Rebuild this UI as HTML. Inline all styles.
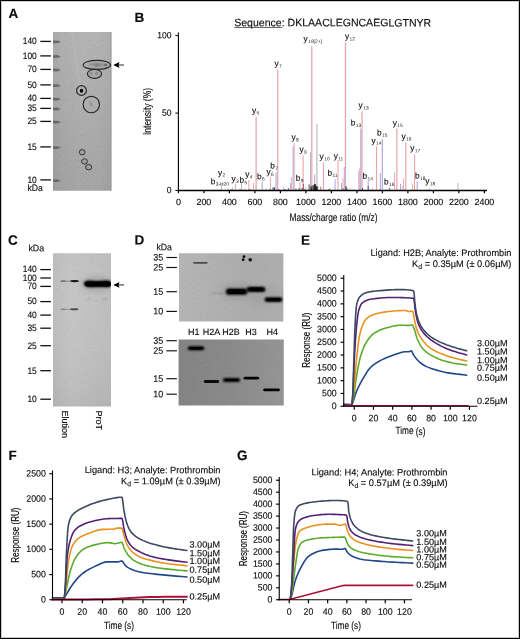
<!DOCTYPE html>
<html lang="en"><head><meta charset="utf-8"><title>Figure</title>
<style>
html,body{margin:0;padding:0;background:#fff;}
body{width:520px;height:639px;overflow:hidden;}
svg{display:block;font-family:"Liberation Sans", sans-serif;}
svg text{fill:#0a0a0a;stroke:#0a0a0a;stroke-width:0.12px;}
</style></head><body>
<svg width="520" height="639" viewBox="0 0 520 639">
<defs>
<filter id="b1" x="-20%" y="-50%" width="140%" height="200%"><feGaussianBlur stdDeviation="0.8"/></filter>
<filter id="b2" x="-20%" y="-50%" width="140%" height="200%"><feGaussianBlur stdDeviation="1.4"/></filter>
<filter id="b05" x="-20%" y="-50%" width="140%" height="200%"><feGaussianBlur stdDeviation="0.5"/></filter>
<filter id="b3" x="-30%" y="-30%" width="160%" height="160%"><feGaussianBlur stdDeviation="3"/></filter>
<filter id="nz" x="0" y="0" width="100%" height="100%" color-interpolation-filters="sRGB"><feTurbulence type="fractalNoise" baseFrequency="0.7" numOctaves="2" seed="7" result="t"/><feColorMatrix in="t" type="matrix" values="0 0 0 0 0  0 0 0 0 0  0 0 0 0 0  1.6 0 0 0 -0.55"/></filter>
<filter id="nzw" x="0" y="0" width="100%" height="100%" color-interpolation-filters="sRGB"><feTurbulence type="fractalNoise" baseFrequency="0.6" numOctaves="2" seed="21" result="t"/><feColorMatrix in="t" type="matrix" values="0 0 0 0 1  0 0 0 0 1  0 0 0 0 1  1.6 0 0 0 -0.55"/></filter>
<linearGradient id="gA" x1="0" y1="0" x2="1" y2="0">
<stop offset="0" stop-color="#a2a2a2"/><stop offset="0.15" stop-color="#a8a8a8"/><stop offset="0.5" stop-color="#adadad"/><stop offset="0.8" stop-color="#ababab"/><stop offset="1" stop-color="#a6a6a6"/>
</linearGradient>
<linearGradient id="gAv" x1="0" y1="0" x2="0" y2="1">
<stop offset="0" stop-color="#fff" stop-opacity="0.12"/><stop offset="0.5" stop-color="#fff" stop-opacity="0.04"/><stop offset="1" stop-color="#000" stop-opacity="0.03"/>
</linearGradient>
<linearGradient id="gB1" x1="0" y1="0" x2="1" y2="0"><stop offset="0" stop-color="#8c8c8c"/><stop offset="0.3" stop-color="#7a7a7a"/><stop offset="0.55" stop-color="#4a4a4a"/><stop offset="0.8" stop-color="#111"/><stop offset="1" stop-color="#3a3a3a"/></linearGradient>
<linearGradient id="gB2" x1="0" y1="0" x2="1" y2="0"><stop offset="0" stop-color="#999"/><stop offset="0.3" stop-color="#8c8c8c"/><stop offset="0.55" stop-color="#6a6a6a"/><stop offset="0.8" stop-color="#3c3c3c"/><stop offset="1" stop-color="#666"/></linearGradient>
<linearGradient id="gC" x1="0" y1="0" x2="0" y2="1">
<stop offset="0" stop-color="#c4c4c4"/><stop offset="0.2" stop-color="#c6c6c6"/><stop offset="0.6" stop-color="#c4c4c4"/><stop offset="0.85" stop-color="#bfbfbf"/><stop offset="1" stop-color="#bababa"/>
</linearGradient>
<linearGradient id="gCh" x1="0" y1="0" x2="1" y2="0">
<stop offset="0" stop-color="#000" stop-opacity="0.04"/><stop offset="0.3" stop-color="#fff" stop-opacity="0.03"/><stop offset="1" stop-color="#000" stop-opacity="0.03"/>
</linearGradient>
<linearGradient id="gD1" x1="0" y1="0" x2="1" y2="0">
<stop offset="0" stop-color="#b6b6b6"/><stop offset="0.35" stop-color="#b2b2b2"/><stop offset="0.7" stop-color="#adadad"/><stop offset="1" stop-color="#b0b0b0"/>
</linearGradient>
<linearGradient id="gD2" x1="0" y1="0" x2="1" y2="0">
<stop offset="0" stop-color="#848484"/><stop offset="0.5" stop-color="#8b8b8b"/><stop offset="1" stop-color="#969696"/>
</linearGradient>
<clipPath id="cA"><rect x="53" y="32" width="58.6" height="158.8"/></clipPath>
<clipPath id="cC"><rect x="53" y="253.2" width="58" height="153.2"/></clipPath>
<clipPath id="cD1"><rect x="179" y="253.3" width="104.4" height="68.2"/></clipPath>
<clipPath id="cD2"><rect x="178.6" y="339.5" width="105.2" height="66"/></clipPath>
</defs>
<rect x="0" y="0" width="520" height="639" fill="#fff"/>
<text x="8.50" y="17.95" font-size="13.5" font-weight="bold" transform="rotate(0.03 8.50 17.95)" fill="#000">A</text>
<g clip-path="url(#cA)">
<rect x="53" y="32" width="58.5" height="159" fill="url(#gA)"/>
<rect x="53" y="32" width="58.5" height="159" fill="url(#gAv)"/>
<rect x="53" y="32" width="59" height="159" filter="url(#nz)" opacity="0.08"/><rect x="53" y="32" width="59" height="159" filter="url(#nzw)" opacity="0.07"/>
<path d="M72.6 32 L75.5 58 L79.5 88 L82 108" stroke="#c2c2c2" stroke-width="1.4" fill="none" opacity="0.55" filter="url(#b1)"/>
<path d="M84 32 L82.5 50 L81 75" stroke="#bababa" stroke-width="1.4" fill="none" opacity="0.4" filter="url(#b1)"/>
<rect x="110.3" y="32" width="1.4" height="159" fill="#9a9a9a"/>
<path d="M53 40.6 L57 40.5 L60.5 41.6 L60.5 42.2 L57 43.3 L53 43.2 Z" fill="#6a6a6a" filter="url(#b05)"/>
<path d="M53 55.2 L57 55.1 L60.5 56.2 L60.5 56.8 L57 57.9 L53 57.8 Z" fill="#6a6a6a" filter="url(#b05)"/>
<path d="M53 68.7 L57 68.6 L60.5 69.7 L60.5 70.3 L57 71.4 L53 71.3 Z" fill="#6a6a6a" filter="url(#b05)"/>
<path d="M53 84.3 L57 84.2 L60.5 85.3 L60.5 85.9 L57 87.0 L53 86.9 Z" fill="#6a6a6a" filter="url(#b05)"/>
<path d="M53 97.8 L57 97.7 L60.5 98.8 L60.5 99.4 L57 100.5 L53 100.4 Z" fill="#6a6a6a" filter="url(#b05)"/>
<path d="M53 107.7 L57 107.6 L60.5 108.7 L60.5 109.3 L57 110.4 L53 110.3 Z" fill="#6a6a6a" filter="url(#b05)"/>
<path d="M53 120.8 L57 120.7 L60.5 121.8 L60.5 122.4 L57 123.5 L53 123.4 Z" fill="#6a6a6a" filter="url(#b05)"/>
<path d="M53 146.3 L57 146.2 L60.5 147.3 L60.5 147.9 L57 149.0 L53 148.9 Z" fill="#6a6a6a" filter="url(#b05)"/>
<path d="M53 179.4 L57 179.3 L60.5 180.4 L60.5 181.0 L57 182.1 L53 182.0 Z" fill="#6a6a6a" filter="url(#b05)"/>
<ellipse cx="97.5" cy="64.8" rx="10" ry="1.7" fill="#8a8a8a" filter="url(#b1)"/>
<ellipse cx="105.7" cy="64.9" rx="1.6" ry="1.2" fill="#6c6c6c" filter="url(#b05)"/>
<ellipse cx="97" cy="65.2" rx="2.5" ry="1.2" fill="#7c7c7c" filter="url(#b1)"/>
<ellipse cx="91.1" cy="73.2" rx="1.8" ry="1.5" fill="#7a7a7a" filter="url(#b1)"/>
<ellipse cx="96.8" cy="73.2" rx="2" ry="1.5" fill="#787878" filter="url(#b1)"/>
<path d="M89.6 102.4 L92.4 105.6" stroke="#7e7e7e" stroke-width="1.5" stroke-linecap="round" fill="none" filter="url(#b1)"/>
</g>
<ellipse cx="96.85" cy="64.9" rx="13.7" ry="4.5" fill="none" stroke="#262626" stroke-width="1.15"/>
<ellipse cx="94.5" cy="73.8" rx="7.1" ry="4.5" fill="none" stroke="#262626" stroke-width="1.15"/>
<ellipse cx="81.5" cy="90.5" rx="4.9" ry="4.9" fill="none" stroke="#262626" stroke-width="1.15"/>
<ellipse cx="81.5" cy="90.8" rx="1.7" ry="2.0" fill="#000" filter="url(#b05)"/><circle cx="81.5" cy="90.8" r="0.9" fill="#000"/>
<ellipse cx="91.3" cy="104.5" rx="8.2" ry="8.2" fill="none" stroke="#262626" stroke-width="1.15"/>
<ellipse cx="82.2" cy="152.2" rx="2.9" ry="2.7" fill="#a0a0a0" stroke="#262626" stroke-width="0.9"/>
<ellipse cx="84.5" cy="161.4" rx="2.9" ry="2.7" fill="#a0a0a0" stroke="#262626" stroke-width="0.9"/>
<ellipse cx="88.7" cy="167.2" rx="3.1" ry="2.7" fill="#a0a0a0" stroke="#262626" stroke-width="0.9"/>
<line x1="118.20" y1="65.00" x2="124.00" y2="65.00" stroke="#666" stroke-width="1.4"/>
<path d="M113.20 65.00 L119.50 62.10 L118.50 65.00 L119.50 67.90 Z" fill="#000"/>
<text x="36.80" y="44.27" font-size="9.4" text-anchor="end" textLength="14.00" lengthAdjust="spacingAndGlyphs" transform="rotate(0.03 36.80 44.27)">140</text>
<line x1="40.30" y1="41.40" x2="50.90" y2="41.40" stroke="#111" stroke-width="1.3"/>
<text x="36.80" y="58.77" font-size="9.4" text-anchor="end" textLength="14.00" lengthAdjust="spacingAndGlyphs" transform="rotate(0.03 36.80 58.77)">100</text>
<line x1="40.30" y1="55.90" x2="50.90" y2="55.90" stroke="#111" stroke-width="1.3"/>
<text x="36.80" y="72.27" font-size="9.4" text-anchor="end" textLength="9.40" lengthAdjust="spacingAndGlyphs" transform="rotate(0.03 36.80 72.27)">70</text>
<line x1="40.30" y1="69.40" x2="50.90" y2="69.40" stroke="#111" stroke-width="1.3"/>
<text x="36.80" y="87.77" font-size="9.4" text-anchor="end" textLength="9.40" lengthAdjust="spacingAndGlyphs" transform="rotate(0.03 36.80 87.77)">50</text>
<line x1="40.30" y1="84.90" x2="50.90" y2="84.90" stroke="#111" stroke-width="1.3"/>
<text x="36.80" y="101.27" font-size="9.4" text-anchor="end" textLength="9.40" lengthAdjust="spacingAndGlyphs" transform="rotate(0.03 36.80 101.27)">40</text>
<line x1="40.30" y1="98.40" x2="50.90" y2="98.40" stroke="#111" stroke-width="1.3"/>
<text x="36.80" y="111.27" font-size="9.4" text-anchor="end" textLength="9.40" lengthAdjust="spacingAndGlyphs" transform="rotate(0.03 36.80 111.27)">35</text>
<line x1="40.30" y1="108.40" x2="50.90" y2="108.40" stroke="#111" stroke-width="1.3"/>
<text x="36.80" y="124.27" font-size="9.4" text-anchor="end" textLength="9.40" lengthAdjust="spacingAndGlyphs" transform="rotate(0.03 36.80 124.27)">25</text>
<line x1="40.30" y1="121.40" x2="50.90" y2="121.40" stroke="#111" stroke-width="1.3"/>
<text x="36.80" y="149.77" font-size="9.4" text-anchor="end" textLength="9.40" lengthAdjust="spacingAndGlyphs" transform="rotate(0.03 36.80 149.77)">15</text>
<line x1="40.30" y1="146.90" x2="50.90" y2="146.90" stroke="#111" stroke-width="1.3"/>
<text x="36.80" y="182.77" font-size="9.4" text-anchor="end" textLength="9.40" lengthAdjust="spacingAndGlyphs" transform="rotate(0.03 36.80 182.77)">10</text>
<line x1="40.30" y1="179.90" x2="50.90" y2="179.90" stroke="#111" stroke-width="1.3"/>
<text x="27.40" y="191.30" font-size="9.3" textLength="15.30" lengthAdjust="spacingAndGlyphs" transform="rotate(0.03 27.40 191.30)">kDa</text>
<text x="134.50" y="22.10" font-size="13.5" font-weight="bold" transform="rotate(0.03 134.50 22.10)" fill="#000">B</text>
<text x="234.2" y="26.3" transform="rotate(0.03 234 26)" font-size="10.8" textLength="197" lengthAdjust="spacingAndGlyphs">Sequence: DKLAACLEGNCAEGLGTNYR</text>
<line x1="234.20" y1="27.45" x2="282.20" y2="27.45" stroke="#1a1a1a" stroke-width="0.7"/>
<line x1="221.60" y1="190.50" x2="221.60" y2="185.40" stroke="#a8a2dc" stroke-width="0.85"/>
<line x1="228.00" y1="190.50" x2="228.00" y2="188.00" stroke="#a8a2dc" stroke-width="0.68"/>
<line x1="232.70" y1="190.50" x2="232.70" y2="187.40" stroke="#a8a2dc" stroke-width="0.85"/>
<line x1="235.50" y1="190.50" x2="235.50" y2="183.80" stroke="#eaa3ad" stroke-width="0.94"/>
<line x1="241.60" y1="190.50" x2="241.60" y2="183.40" stroke="#a8a2dc" stroke-width="0.94"/>
<line x1="245.00" y1="190.50" x2="245.00" y2="187.80" stroke="#eaa3ad" stroke-width="0.68"/>
<line x1="248.80" y1="190.50" x2="248.80" y2="180.00" stroke="#eaa3ad" stroke-width="0.94"/>
<line x1="253.50" y1="190.50" x2="253.50" y2="183.00" stroke="#eaa3ad" stroke-width="0.94"/>
<line x1="256.10" y1="190.50" x2="256.10" y2="116.80" stroke="#eaa3ad" stroke-width="1.27"/>
<line x1="262.20" y1="190.50" x2="262.20" y2="181.50" stroke="#a8a2dc" stroke-width="1.02"/>
<line x1="266.00" y1="190.50" x2="266.00" y2="187.80" stroke="#a8a2dc" stroke-width="0.68"/>
<line x1="270.40" y1="190.50" x2="270.40" y2="177.00" stroke="#eaa3ad" stroke-width="0.94"/>
<line x1="274.00" y1="190.50" x2="274.00" y2="187.00" stroke="#5a55b0" stroke-width="0.77"/>
<line x1="276.10" y1="190.50" x2="276.10" y2="172.60" stroke="#a8a2dc" stroke-width="1.02"/>
<line x1="277.70" y1="190.50" x2="277.70" y2="70.00" stroke="#eaa3ad" stroke-width="1.19"/>
<line x1="283.80" y1="190.50" x2="283.80" y2="187.00" stroke="#a8a2dc" stroke-width="0.85"/>
<line x1="288.00" y1="190.50" x2="288.00" y2="188.00" stroke="#eaa3ad" stroke-width="0.68"/>
<line x1="290.50" y1="190.50" x2="290.50" y2="183.00" stroke="#a8a2dc" stroke-width="0.85"/>
<line x1="291.50" y1="190.50" x2="291.50" y2="177.20" stroke="#eaa3ad" stroke-width="0.85"/>
<line x1="293.10" y1="190.50" x2="293.10" y2="146.20" stroke="#a8a2dc" stroke-width="1.02"/>
<line x1="294.20" y1="190.50" x2="294.20" y2="143.00" stroke="#eaa3ad" stroke-width="1.02"/>
<line x1="300.00" y1="190.50" x2="300.00" y2="182.30" stroke="#a8a2dc" stroke-width="0.94"/>
<line x1="303.10" y1="190.50" x2="303.10" y2="155.40" stroke="#eaa3ad" stroke-width="1.1"/>
<line x1="303.40" y1="190.50" x2="303.40" y2="183.80" stroke="#b23a3a" stroke-width="0.85"/>
<line x1="306.00" y1="190.50" x2="306.00" y2="187.50" stroke="#eaa3ad" stroke-width="0.68"/>
<line x1="310.50" y1="190.50" x2="310.50" y2="152.30" stroke="#b9b9b9" stroke-width="1.02"/>
<line x1="311.80" y1="190.50" x2="311.80" y2="46.20" stroke="#eaa3ad" stroke-width="1.27"/>
<line x1="314.60" y1="190.50" x2="314.60" y2="174.60" stroke="#a8a2dc" stroke-width="0.94"/>
<line x1="316.90" y1="190.50" x2="316.90" y2="124.00" stroke="#b9b9b9" stroke-width="1.19"/>
<line x1="320.80" y1="190.50" x2="320.80" y2="186.50" stroke="#b23a3a" stroke-width="0.77"/>
<line x1="323.50" y1="190.50" x2="323.50" y2="162.30" stroke="#eaa3ad" stroke-width="1.1"/>
<line x1="330.00" y1="190.50" x2="330.00" y2="188.00" stroke="#a8a2dc" stroke-width="0.68"/>
<line x1="335.10" y1="190.50" x2="335.10" y2="179.20" stroke="#a8a2dc" stroke-width="0.94"/>
<line x1="338.00" y1="190.50" x2="338.00" y2="160.30" stroke="#eaa3ad" stroke-width="1.1"/>
<line x1="341.50" y1="190.50" x2="341.50" y2="183.00" stroke="#a8a2dc" stroke-width="0.85"/>
<line x1="342.80" y1="190.50" x2="342.80" y2="178.20" stroke="#eaa3ad" stroke-width="0.85"/>
<line x1="344.30" y1="190.50" x2="344.30" y2="167.00" stroke="#a8a2dc" stroke-width="0.94"/>
<line x1="345.50" y1="190.50" x2="345.50" y2="42.40" stroke="#eaa3ad" stroke-width="1.27"/>
<line x1="350.00" y1="190.50" x2="350.00" y2="187.80" stroke="#eaa3ad" stroke-width="0.68"/>
<line x1="358.80" y1="190.50" x2="358.80" y2="171.20" stroke="#a8a2dc" stroke-width="0.85"/>
<line x1="359.60" y1="190.50" x2="359.60" y2="168.50" stroke="#eaa3ad" stroke-width="0.85"/>
<line x1="360.80" y1="190.50" x2="360.80" y2="128.50" stroke="#a8a2dc" stroke-width="1.02"/>
<line x1="362.00" y1="190.50" x2="362.00" y2="111.20" stroke="#eaa3ad" stroke-width="1.27"/>
<line x1="368.20" y1="190.50" x2="368.20" y2="180.80" stroke="#a8a2dc" stroke-width="1.02"/>
<line x1="368.20" y1="190.50" x2="368.20" y2="186.00" stroke="#5a55b0" stroke-width="1.02"/>
<line x1="372.50" y1="190.50" x2="372.50" y2="187.80" stroke="#eaa3ad" stroke-width="0.68"/>
<line x1="376.50" y1="190.50" x2="376.50" y2="146.20" stroke="#eaa3ad" stroke-width="1.1"/>
<line x1="380.30" y1="190.50" x2="380.30" y2="173.00" stroke="#a8a2dc" stroke-width="1.02"/>
<line x1="382.30" y1="190.50" x2="382.30" y2="139.20" stroke="#a8a2dc" stroke-width="1.1"/>
<line x1="387.00" y1="190.50" x2="387.00" y2="188.20" stroke="#eaa3ad" stroke-width="0.68"/>
<line x1="389.70" y1="190.50" x2="389.70" y2="187.50" stroke="#5a55b0" stroke-width="0.85"/>
<line x1="394.60" y1="190.50" x2="394.60" y2="172.30" stroke="#eaa3ad" stroke-width="0.94"/>
<line x1="396.90" y1="190.50" x2="396.90" y2="128.80" stroke="#eaa3ad" stroke-width="1.19"/>
<line x1="400.50" y1="190.50" x2="400.50" y2="183.80" stroke="#a8a2dc" stroke-width="0.94"/>
<line x1="402.80" y1="190.50" x2="402.80" y2="186.00" stroke="#a8a2dc" stroke-width="0.77"/>
<line x1="403.60" y1="190.50" x2="403.60" y2="178.50" stroke="#eaa3ad" stroke-width="0.94"/>
<line x1="405.80" y1="190.50" x2="405.80" y2="142.30" stroke="#eaa3ad" stroke-width="1.19"/>
<line x1="412.60" y1="190.50" x2="412.60" y2="183.80" stroke="#eaa3ad" stroke-width="0.94"/>
<line x1="414.60" y1="190.50" x2="414.60" y2="154.20" stroke="#eaa3ad" stroke-width="1.1"/>
<line x1="417.20" y1="190.50" x2="417.20" y2="181.50" stroke="#a8a2dc" stroke-width="1.02"/>
<line x1="429.20" y1="190.50" x2="429.20" y2="188.00" stroke="#eaa3ad" stroke-width="0.77"/>
<line x1="458.00" y1="190.50" x2="458.00" y2="183.00" stroke="#b9b9b9" stroke-width="1.02"/>
<line x1="311.07" y1="190.50" x2="311.07" y2="186.01" stroke="#1a1a1a" stroke-width="0.8"/>
<line x1="312.22" y1="190.50" x2="312.22" y2="185.68" stroke="#1a1a1a" stroke-width="0.8"/>
<line x1="314.44" y1="190.50" x2="314.44" y2="188.64" stroke="#1a1a1a" stroke-width="0.8"/>
<line x1="309.11" y1="190.50" x2="309.11" y2="184.39" stroke="#1a1a1a" stroke-width="0.8"/>
<line x1="311.26" y1="190.50" x2="311.26" y2="187.71" stroke="#1a1a1a" stroke-width="0.8"/>
<line x1="317.66" y1="190.50" x2="317.66" y2="186.41" stroke="#1a1a1a" stroke-width="0.8"/>
<line x1="316.28" y1="190.50" x2="316.28" y2="186.38" stroke="#1a1a1a" stroke-width="0.8"/>
<line x1="314.56" y1="190.50" x2="314.56" y2="188.17" stroke="#1a1a1a" stroke-width="0.8"/>
<line x1="314.52" y1="190.50" x2="314.52" y2="184.23" stroke="#1a1a1a" stroke-width="0.8"/>
<line x1="313.55" y1="190.50" x2="313.55" y2="184.92" stroke="#1a1a1a" stroke-width="0.8"/>
<line x1="314.84" y1="190.50" x2="314.84" y2="188.65" stroke="#1a1a1a" stroke-width="0.8"/>
<line x1="315.60" y1="190.50" x2="315.60" y2="185.75" stroke="#1a1a1a" stroke-width="0.8"/>
<line x1="311.62" y1="190.50" x2="311.62" y2="188.83" stroke="#1a1a1a" stroke-width="0.8"/>
<line x1="316.53" y1="190.50" x2="316.53" y2="186.40" stroke="#1a1a1a" stroke-width="0.8"/>
<line x1="315.25" y1="190.50" x2="315.25" y2="184.17" stroke="#1a1a1a" stroke-width="0.8"/>
<line x1="315.21" y1="190.50" x2="315.21" y2="183.93" stroke="#1a1a1a" stroke-width="0.8"/>
<line x1="270.00" y1="190.50" x2="270.00" y2="189.00" stroke="#2a2a2a" stroke-width="0.8"/>
<line x1="273.00" y1="190.50" x2="273.00" y2="187.50" stroke="#2a2a2a" stroke-width="0.8"/>
<line x1="274.50" y1="190.50" x2="274.50" y2="187.50" stroke="#2a2a2a" stroke-width="0.8"/>
<line x1="279.00" y1="190.50" x2="279.00" y2="189.00" stroke="#2a2a2a" stroke-width="0.8"/>
<line x1="296.00" y1="190.50" x2="296.00" y2="188.50" stroke="#2a2a2a" stroke-width="0.8"/>
<line x1="299.00" y1="190.50" x2="299.00" y2="188.00" stroke="#2a2a2a" stroke-width="0.8"/>
<line x1="302.00" y1="190.50" x2="302.00" y2="188.00" stroke="#2a2a2a" stroke-width="0.8"/>
<line x1="305.00" y1="190.50" x2="305.00" y2="189.00" stroke="#2a2a2a" stroke-width="0.8"/>
<line x1="343.00" y1="190.50" x2="343.00" y2="188.50" stroke="#2a2a2a" stroke-width="0.8"/>
<line x1="345.90" y1="190.50" x2="345.90" y2="186.00" stroke="#2a2a2a" stroke-width="0.8"/>
<line x1="346.80" y1="190.50" x2="346.80" y2="187.50" stroke="#2a2a2a" stroke-width="0.8"/>
<line x1="240.00" y1="190.50" x2="240.00" y2="189.00" stroke="#2a2a2a" stroke-width="0.8"/>
<line x1="231.00" y1="190.50" x2="231.00" y2="189.30" stroke="#2a2a2a" stroke-width="0.8"/>
<line x1="250.00" y1="190.50" x2="250.00" y2="189.00" stroke="#2a2a2a" stroke-width="0.8"/>
<line x1="288.50" y1="190.50" x2="288.50" y2="188.50" stroke="#2a2a2a" stroke-width="0.8"/>
<line x1="285.00" y1="190.50" x2="285.00" y2="189.00" stroke="#2a2a2a" stroke-width="0.8"/>
<line x1="362.50" y1="190.50" x2="362.50" y2="188.00" stroke="#2a2a2a" stroke-width="0.8"/>
<line x1="329.00" y1="190.50" x2="329.00" y2="189.00" stroke="#2a2a2a" stroke-width="0.8"/>
<line x1="178.40" y1="32.50" x2="178.40" y2="191.00" stroke="#000" stroke-width="1.1"/>
<line x1="177.90" y1="190.50" x2="487.00" y2="190.50" stroke="#000" stroke-width="1.4"/>
<line x1="175.40" y1="35.60" x2="178.40" y2="35.60" stroke="#000" stroke-width="1"/>
<text x="171.60" y="38.22" font-size="9" text-anchor="end" textLength="14.25" lengthAdjust="spacingAndGlyphs" transform="rotate(0.03 171.60 38.22)">100</text>
<line x1="175.40" y1="113.10" x2="178.40" y2="113.10" stroke="#000" stroke-width="1"/>
<text x="171.60" y="115.72" font-size="9" text-anchor="end" textLength="9.50" lengthAdjust="spacingAndGlyphs" transform="rotate(0.03 171.60 115.72)">50</text>
<line x1="175.40" y1="190.50" x2="178.40" y2="190.50" stroke="#000" stroke-width="1"/>
<text x="171.60" y="193.12" font-size="9" text-anchor="end" textLength="4.75" lengthAdjust="spacingAndGlyphs" transform="rotate(0.03 171.60 193.12)">0</text>
<line x1="178.40" y1="190.50" x2="178.40" y2="193.30" stroke="#000" stroke-width="1.2"/>
<text x="178.40" y="205.00" font-size="9" text-anchor="middle" transform="rotate(0.03 178.40 205.00)">0</text>
<line x1="203.90" y1="190.50" x2="203.90" y2="193.30" stroke="#000" stroke-width="1.2"/>
<text x="203.90" y="205.00" font-size="9" text-anchor="middle" textLength="14.85" lengthAdjust="spacingAndGlyphs" transform="rotate(0.03 203.90 205.00)">200</text>
<line x1="229.40" y1="190.50" x2="229.40" y2="193.30" stroke="#000" stroke-width="1.2"/>
<text x="229.40" y="205.00" font-size="9" text-anchor="middle" textLength="14.85" lengthAdjust="spacingAndGlyphs" transform="rotate(0.03 229.40 205.00)">400</text>
<line x1="254.90" y1="190.50" x2="254.90" y2="193.30" stroke="#000" stroke-width="1.2"/>
<text x="254.90" y="205.00" font-size="9" text-anchor="middle" textLength="14.85" lengthAdjust="spacingAndGlyphs" transform="rotate(0.03 254.90 205.00)">600</text>
<line x1="280.40" y1="190.50" x2="280.40" y2="193.30" stroke="#000" stroke-width="1.2"/>
<text x="280.40" y="205.00" font-size="9" text-anchor="middle" textLength="14.85" lengthAdjust="spacingAndGlyphs" transform="rotate(0.03 280.40 205.00)">800</text>
<line x1="305.90" y1="190.50" x2="305.90" y2="193.30" stroke="#000" stroke-width="1.2"/>
<text x="305.90" y="205.00" font-size="9" text-anchor="middle" textLength="19.80" lengthAdjust="spacingAndGlyphs" transform="rotate(0.03 305.90 205.00)">1000</text>
<line x1="331.40" y1="190.50" x2="331.40" y2="193.30" stroke="#000" stroke-width="1.2"/>
<text x="331.40" y="205.00" font-size="9" text-anchor="middle" textLength="19.80" lengthAdjust="spacingAndGlyphs" transform="rotate(0.03 331.40 205.00)">1200</text>
<line x1="356.90" y1="190.50" x2="356.90" y2="193.30" stroke="#000" stroke-width="1.2"/>
<text x="356.90" y="205.00" font-size="9" text-anchor="middle" textLength="19.80" lengthAdjust="spacingAndGlyphs" transform="rotate(0.03 356.90 205.00)">1400</text>
<line x1="382.40" y1="190.50" x2="382.40" y2="193.30" stroke="#000" stroke-width="1.2"/>
<text x="382.40" y="205.00" font-size="9" text-anchor="middle" textLength="19.80" lengthAdjust="spacingAndGlyphs" transform="rotate(0.03 382.40 205.00)">1600</text>
<line x1="407.90" y1="190.50" x2="407.90" y2="193.30" stroke="#000" stroke-width="1.2"/>
<text x="407.90" y="205.00" font-size="9" text-anchor="middle" textLength="19.80" lengthAdjust="spacingAndGlyphs" transform="rotate(0.03 407.90 205.00)">1800</text>
<line x1="433.40" y1="190.50" x2="433.40" y2="193.30" stroke="#000" stroke-width="1.2"/>
<text x="433.40" y="205.00" font-size="9" text-anchor="middle" textLength="19.80" lengthAdjust="spacingAndGlyphs" transform="rotate(0.03 433.40 205.00)">2000</text>
<line x1="458.90" y1="190.50" x2="458.90" y2="193.30" stroke="#000" stroke-width="1.2"/>
<text x="458.90" y="205.00" font-size="9" text-anchor="middle" textLength="19.80" lengthAdjust="spacingAndGlyphs" transform="rotate(0.03 458.90 205.00)">2200</text>
<line x1="484.40" y1="190.50" x2="484.40" y2="193.30" stroke="#000" stroke-width="1.2"/>
<text x="484.40" y="205.00" font-size="9" text-anchor="middle" textLength="19.80" lengthAdjust="spacingAndGlyphs" transform="rotate(0.03 484.40 205.00)">2400</text>
<text x="333.50" y="220.60" font-size="10.8" text-anchor="middle" textLength="88.00" lengthAdjust="spacingAndGlyphs" transform="rotate(0.03 333.50 220.60)">Mass/charge ratio (m/z)</text>
<text x="150.80" y="111.50" font-size="11" text-anchor="middle" textLength="47.00" lengthAdjust="spacingAndGlyphs" transform="rotate(-90 150.80 111.50)">Intensity (%)</text>
<text x="210.70" y="184.30" transform="rotate(0.03 210.7 184.3)" font-size="8.3">b<tspan font-size="4.9" dy="1.4" dx="0.4" fill="#1a1a1a" stroke="none">3-H20</tspan></text>
<text x="217.90" y="175.40" transform="rotate(0.03 217.9 175.4)" font-size="8.3">y<tspan font-size="4.9" dy="1.4" dx="0.4" fill="#1a1a1a" stroke="none">2</tspan></text>
<text x="231.40" y="181.50" transform="rotate(0.03 231.4 181.5)" font-size="8.3">y<tspan font-size="4.9" dy="1.4" dx="0.4" fill="#1a1a1a" stroke="none">3</tspan></text>
<text x="239.50" y="182.80" transform="rotate(0.03 239.5 182.8)" font-size="8.3">b<tspan font-size="4.9" dy="1.4" dx="0.4" fill="#1a1a1a" stroke="none">5</tspan></text>
<text x="245.20" y="177.00" transform="rotate(0.03 245.2 177.0)" font-size="8.3">y<tspan font-size="4.9" dy="1.4" dx="0.4" fill="#1a1a1a" stroke="none">4</tspan></text>
<text x="251.90" y="113.20" transform="rotate(0.03 251.9 113.2)" font-size="8.3">y<tspan font-size="4.9" dy="1.4" dx="0.4" fill="#1a1a1a" stroke="none">5</tspan></text>
<text x="257.10" y="179.20" transform="rotate(0.03 257.1 179.2)" font-size="8.3">b<tspan font-size="4.9" dy="1.4" dx="0.4" fill="#1a1a1a" stroke="none">6</tspan></text>
<text x="266.40" y="174.60" transform="rotate(0.03 266.4 174.6)" font-size="8.3">y<tspan font-size="4.9" dy="1.4" dx="0.4" fill="#1a1a1a" stroke="none">6</tspan></text>
<text x="270.30" y="168.50" transform="rotate(0.03 270.3 168.5)" font-size="8.3">b<tspan font-size="4.9" dy="1.4" dx="0.4" fill="#1a1a1a" stroke="none">7</tspan></text>
<text x="274.40" y="66.20" transform="rotate(0.03 274.4 66.2)" font-size="8.3">y<tspan font-size="4.9" dy="1.4" dx="0.4" fill="#1a1a1a" stroke="none">7</tspan></text>
<text x="291.40" y="140.00" transform="rotate(0.03 291.4 140.0)" font-size="8.3">y<tspan font-size="4.9" dy="1.4" dx="0.4" fill="#1a1a1a" stroke="none">8</tspan></text>
<text x="295.70" y="180.80" transform="rotate(0.03 295.7 180.8)" font-size="8.3">b<tspan font-size="4.9" dy="1.4" dx="0.4" fill="#1a1a1a" stroke="none">9</tspan></text>
<text x="299.40" y="152.30" transform="rotate(0.03 299.4 152.3)" font-size="8.3">y<tspan font-size="4.9" dy="1.4" dx="0.4" fill="#1a1a1a" stroke="none">9</tspan></text>
<text x="303.60" y="41.50" transform="rotate(0.03 303.6 41.5)" font-size="8.3">y<tspan font-size="4.9" dy="1.4" dx="0.4" fill="#1a1a1a" stroke="none">19[2+]</tspan></text>
<text x="319.60" y="159.20" transform="rotate(0.03 319.6 159.2)" font-size="8.3">y<tspan font-size="4.9" dy="1.4" dx="0.4" fill="#1a1a1a" stroke="none">10</tspan></text>
<text x="327.50" y="175.70" transform="rotate(0.03 327.5 175.7)" font-size="8.3">b<tspan font-size="4.9" dy="1.4" dx="0.4" fill="#1a1a1a" stroke="none">11</tspan></text>
<text x="333.70" y="158.80" transform="rotate(0.03 333.7 158.8)" font-size="8.3">y<tspan font-size="4.9" dy="1.4" dx="0.4" fill="#1a1a1a" stroke="none">11</tspan></text>
<text x="344.90" y="39.00" transform="rotate(0.03 344.9 39.0)" font-size="8.3">y<tspan font-size="4.9" dy="1.4" dx="0.4" fill="#1a1a1a" stroke="none">12</tspan></text>
<text x="350.70" y="125.50" transform="rotate(0.03 350.7 125.5)" font-size="8.3">b<tspan font-size="4.9" dy="1.4" dx="0.4" fill="#1a1a1a" stroke="none">13</tspan></text>
<text x="358.60" y="108.00" transform="rotate(0.03 358.6 108.0)" font-size="8.3">y<tspan font-size="4.9" dy="1.4" dx="0.4" fill="#1a1a1a" stroke="none">13</tspan></text>
<text x="362.50" y="178.80" transform="rotate(0.03 362.5 178.8)" font-size="8.3">b<tspan font-size="4.9" dy="1.4" dx="0.4" fill="#1a1a1a" stroke="none">14</tspan></text>
<text x="371.40" y="143.40" transform="rotate(0.03 371.4 143.4)" font-size="8.3">y<tspan font-size="4.9" dy="1.4" dx="0.4" fill="#1a1a1a" stroke="none">14</tspan></text>
<text x="376.90" y="135.40" transform="rotate(0.03 376.9 135.4)" font-size="8.3">b<tspan font-size="4.9" dy="1.4" dx="0.4" fill="#1a1a1a" stroke="none">15</tspan></text>
<text x="384.10" y="184.60" transform="rotate(0.03 384.1 184.6)" font-size="8.3">b<tspan font-size="4.9" dy="1.4" dx="0.4" fill="#1a1a1a" stroke="none">16</tspan></text>
<text x="392.70" y="125.70" transform="rotate(0.03 392.7 125.7)" font-size="8.3">y<tspan font-size="4.9" dy="1.4" dx="0.4" fill="#1a1a1a" stroke="none">15</tspan></text>
<text x="401.40" y="139.20" transform="rotate(0.03 401.4 139.2)" font-size="8.3">y<tspan font-size="4.9" dy="1.4" dx="0.4" fill="#1a1a1a" stroke="none">16</tspan></text>
<text x="410.20" y="150.80" transform="rotate(0.03 410.2 150.8)" font-size="8.3">y<tspan font-size="4.9" dy="1.4" dx="0.4" fill="#1a1a1a" stroke="none">17</tspan></text>
<text x="414.90" y="178.50" transform="rotate(0.03 414.9 178.5)" font-size="8.3">b<tspan font-size="4.9" dy="1.4" dx="0.4" fill="#1a1a1a" stroke="none">18</tspan></text>
<text x="425.30" y="183.80" transform="rotate(0.03 425.3 183.8)" font-size="8.3">y<tspan font-size="4.9" dy="1.4" dx="0.4" fill="#1a1a1a" stroke="none">18</tspan></text>
<text x="8.10" y="244.85" font-size="13.5" font-weight="bold" transform="rotate(0.03 8.10 244.85)" fill="#000">C</text>
<text x="28.40" y="251.20" font-size="9.3" textLength="15.70" lengthAdjust="spacingAndGlyphs" transform="rotate(0.03 28.40 251.20)">kDa</text>
<g clip-path="url(#cC)">
<rect x="53" y="253" width="58" height="154" fill="url(#gC)"/>
<rect x="53" y="253" width="58" height="154" fill="url(#gCh)"/>
<rect x="53" y="253" width="58" height="154" filter="url(#nz)" opacity="0.05"/><rect x="53" y="253" width="58" height="154" filter="url(#nzw)" opacity="0.05"/>
<ellipse cx="97" cy="284" rx="15" ry="7" fill="#8a8a8a" opacity="0.55" filter="url(#b3)"/>
<g filter="url(#b05)"><rect x="60.5" y="280.6" width="18" height="1.1" fill="#8a8a8a"/><ellipse cx="63.3" cy="281.15" rx="2.8" ry="0.95" fill="#757575"/><ellipse cx="74.6" cy="281.1" rx="4.4" ry="1.15" fill="#161616"/></g>
<g filter="url(#b05)"><rect x="60.5" y="308.8" width="17.6" height="1.0" fill="#999"/><ellipse cx="63.3" cy="309.3" rx="2.8" ry="0.9" fill="#8a8a8a"/><ellipse cx="74.3" cy="309.3" rx="4.2" ry="1.05" fill="#4a4a4a"/></g>
<path d="M83.6 283.6 C84.5 280.6 88 280.2 92 280.8 C98 281.6 103 280.6 107 280.5 C110 280.4 111.5 281.5 111.5 283.8 C111.5 286.2 110 287.3 107 287.2 C103 287 98 286.6 92 287.2 C88 287.6 84.5 287 83.6 283.6 Z" fill="#000" filter="url(#b1)"/>
<rect x="85" y="281.4" width="26" height="5" rx="2.5" fill="#000" filter="url(#b05)"/>
<rect x="86.5" y="298.2" width="4" height="1.4" fill="#a6a6a6" filter="url(#b1)"/>
<rect x="103" y="298.2" width="4" height="1.5" fill="#9c9c9c" filter="url(#b1)"/>
</g>
<line x1="118.20" y1="284.90" x2="124.00" y2="284.90" stroke="#666" stroke-width="1.4"/>
<path d="M113.20 284.90 L119.50 282.00 L118.50 284.90 L119.50 287.80 Z" fill="#000"/>
<text x="36.80" y="272.47" font-size="9.4" text-anchor="end" textLength="14.00" lengthAdjust="spacingAndGlyphs" transform="rotate(0.03 36.80 272.47)">140</text>
<line x1="40.30" y1="269.60" x2="50.90" y2="269.60" stroke="#111" stroke-width="1.3"/>
<text x="36.80" y="280.87" font-size="9.4" text-anchor="end" textLength="14.00" lengthAdjust="spacingAndGlyphs" transform="rotate(0.03 36.80 280.87)">100</text>
<line x1="40.30" y1="278.00" x2="50.90" y2="278.00" stroke="#111" stroke-width="1.3"/>
<text x="36.80" y="289.27" font-size="9.4" text-anchor="end" textLength="9.40" lengthAdjust="spacingAndGlyphs" transform="rotate(0.03 36.80 289.27)">70</text>
<line x1="40.30" y1="286.40" x2="50.90" y2="286.40" stroke="#111" stroke-width="1.3"/>
<text x="36.80" y="304.47" font-size="9.4" text-anchor="end" textLength="9.40" lengthAdjust="spacingAndGlyphs" transform="rotate(0.03 36.80 304.47)">50</text>
<line x1="40.30" y1="301.60" x2="50.90" y2="301.60" stroke="#111" stroke-width="1.3"/>
<text x="36.80" y="317.97" font-size="9.4" text-anchor="end" textLength="9.40" lengthAdjust="spacingAndGlyphs" transform="rotate(0.03 36.80 317.97)">40</text>
<line x1="40.30" y1="315.10" x2="50.90" y2="315.10" stroke="#111" stroke-width="1.3"/>
<text x="36.80" y="331.07" font-size="9.4" text-anchor="end" textLength="9.40" lengthAdjust="spacingAndGlyphs" transform="rotate(0.03 36.80 331.07)">35</text>
<line x1="40.30" y1="328.20" x2="50.90" y2="328.20" stroke="#111" stroke-width="1.3"/>
<text x="36.80" y="348.57" font-size="9.4" text-anchor="end" textLength="9.40" lengthAdjust="spacingAndGlyphs" transform="rotate(0.03 36.80 348.57)">25</text>
<line x1="40.30" y1="345.70" x2="50.90" y2="345.70" stroke="#111" stroke-width="1.3"/>
<text x="36.80" y="373.57" font-size="9.4" text-anchor="end" textLength="9.40" lengthAdjust="spacingAndGlyphs" transform="rotate(0.03 36.80 373.57)">15</text>
<line x1="40.30" y1="370.70" x2="50.90" y2="370.70" stroke="#111" stroke-width="1.3"/>
<text x="36.80" y="402.07" font-size="9.4" text-anchor="end" textLength="9.40" lengthAdjust="spacingAndGlyphs" transform="rotate(0.03 36.80 402.07)">10</text>
<line x1="40.30" y1="399.20" x2="50.90" y2="399.20" stroke="#111" stroke-width="1.3"/>
<text x="61.80" y="410.50" font-size="9" transform="rotate(90 61.80 410.50)">Elution</text>
<text x="95.80" y="410.50" font-size="9" transform="rotate(90 95.80 410.50)">ProT</text>
<text x="134.50" y="244.45" font-size="13.5" font-weight="bold" transform="rotate(0.03 134.50 244.45)" fill="#000">D</text>
<text x="156.40" y="250.20" font-size="9.3" textLength="15.50" lengthAdjust="spacingAndGlyphs" transform="rotate(0.03 156.40 250.20)">kDa</text>
<g clip-path="url(#cD1)">
<rect x="179" y="253" width="105" height="69" fill="url(#gD1)"/>
<rect x="179" y="253" width="105" height="69" filter="url(#nz)" opacity="0.06"/><rect x="179" y="253" width="105" height="69" filter="url(#nzw)" opacity="0.06"/>
<ellipse cx="237" cy="291.5" rx="16" ry="8" fill="#909090" opacity="0.5" filter="url(#b3)"/>
<ellipse cx="265" cy="296" rx="18" ry="9" fill="#989898" opacity="0.4" filter="url(#b3)"/>
<rect x="193.2" y="262.0" width="14.4" height="1.7" rx="0.8" fill="#4a4a4a" filter="url(#b05)"/>
<rect x="211.5" y="292.8" width="14" height="1.3" rx="0.6" fill="#8e8e8e" filter="url(#b1)"/>
<rect x="225.8" y="288.6" width="21.6" height="6.2" rx="3.1" fill="#000" filter="url(#b1)"/>
<rect x="228" y="289.3" width="17" height="4.6" rx="2.3" fill="#000"/>
<rect x="246.4" y="286.8" width="19" height="5.2" rx="2.6" fill="#000" filter="url(#b1)"/>
<rect x="249" y="287.6" width="14" height="3.6" rx="1.8" fill="#000"/>
<rect x="264.4" y="297.2" width="18.2" height="4.8" rx="2.4" fill="#000" filter="url(#b1)"/>
<rect x="266.5" y="297.9" width="14" height="3.4" rx="1.7" fill="#000"/>
<g filter="url(#b05)"><circle cx="244" cy="256.6" r="1.35" fill="#000"/><circle cx="243.2" cy="259.7" r="1.35" fill="#000"/><circle cx="250.2" cy="259.7" r="1.7" fill="#000"/></g>
</g>
<text x="163.30" y="260.47" font-size="9.4" text-anchor="end" textLength="10.00" lengthAdjust="spacingAndGlyphs" transform="rotate(0.03 163.30 260.47)">35</text>
<line x1="166.40" y1="257.50" x2="176.90" y2="257.50" stroke="#111" stroke-width="1.15"/>
<text x="163.30" y="270.47" font-size="9.4" text-anchor="end" textLength="10.00" lengthAdjust="spacingAndGlyphs" transform="rotate(0.03 163.30 270.47)">25</text>
<line x1="166.40" y1="267.50" x2="176.90" y2="267.50" stroke="#111" stroke-width="1.15"/>
<text x="163.30" y="294.67" font-size="9.4" text-anchor="end" textLength="10.00" lengthAdjust="spacingAndGlyphs" transform="rotate(0.03 163.30 294.67)">15</text>
<line x1="166.40" y1="291.70" x2="176.90" y2="291.70" stroke="#111" stroke-width="1.15"/>
<text x="163.30" y="314.37" font-size="9.4" text-anchor="end" textLength="10.00" lengthAdjust="spacingAndGlyphs" transform="rotate(0.03 163.30 314.37)">10</text>
<line x1="166.40" y1="311.40" x2="176.90" y2="311.40" stroke="#111" stroke-width="1.15"/>
<text x="193.70" y="335.00" font-size="9" text-anchor="middle" transform="rotate(0.03 193.70 335.00)">H1</text>
<text x="211.50" y="335.00" font-size="9" text-anchor="middle" transform="rotate(0.03 211.50 335.00)">H2A</text>
<text x="231.00" y="335.00" font-size="9" text-anchor="middle" transform="rotate(0.03 231.00 335.00)">H2B</text>
<text x="251.00" y="335.00" font-size="9" text-anchor="middle" transform="rotate(0.03 251.00 335.00)">H3</text>
<text x="272.20" y="335.00" font-size="9" text-anchor="middle" transform="rotate(0.03 272.20 335.00)">H4</text>
<g clip-path="url(#cD2)">
<rect x="178" y="339" width="107" height="68" fill="url(#gD2)"/>
<rect x="178" y="339" width="107" height="68" filter="url(#nz)" opacity="0.05"/><rect x="178" y="339" width="107" height="68" filter="url(#nzw)" opacity="0.05"/>
<rect x="187.6" y="346.3" width="16.8" height="4.0" rx="2.0" fill="#000" filter="url(#b1)"/>
<rect x="189.5" y="347.1" width="13" height="2.4" rx="1.2" fill="#000"/>
<rect x="203.8" y="380.1" width="15.4" height="2.8" rx="1.4" fill="#101010" filter="url(#b05)"/>
<rect x="222.8" y="378.1" width="17.4" height="3.8" rx="1.9" fill="#000" filter="url(#b1)"/>
<rect x="225" y="379" width="13" height="2.0" rx="1" fill="#000"/>
<rect x="243.6" y="376.8" width="15.6" height="2.8" rx="1.4" fill="#000" filter="url(#b05)"/>
<rect x="263.2" y="388.4" width="16.6" height="2.9" rx="1.4" fill="#000" filter="url(#b05)"/>
</g>
<text x="163.30" y="343.67" font-size="9.4" text-anchor="end" textLength="10.00" lengthAdjust="spacingAndGlyphs" transform="rotate(0.03 163.30 343.67)">35</text>
<line x1="166.40" y1="340.70" x2="176.90" y2="340.70" stroke="#111" stroke-width="1.15"/>
<text x="163.30" y="353.77" font-size="9.4" text-anchor="end" textLength="10.00" lengthAdjust="spacingAndGlyphs" transform="rotate(0.03 163.30 353.77)">25</text>
<line x1="166.40" y1="350.80" x2="176.90" y2="350.80" stroke="#111" stroke-width="1.15"/>
<text x="163.30" y="381.67" font-size="9.4" text-anchor="end" textLength="10.00" lengthAdjust="spacingAndGlyphs" transform="rotate(0.03 163.30 381.67)">15</text>
<line x1="166.40" y1="378.70" x2="176.90" y2="378.70" stroke="#111" stroke-width="1.15"/>
<text x="163.30" y="397.17" font-size="9.4" text-anchor="end" textLength="10.00" lengthAdjust="spacingAndGlyphs" transform="rotate(0.03 163.30 397.17)">10</text>
<line x1="166.40" y1="394.20" x2="176.90" y2="394.20" stroke="#111" stroke-width="1.15"/>
<text x="301.00" y="244.85" font-size="13.5" font-weight="bold" transform="rotate(0.03 301.00 244.85)" fill="#000">E</text>
<text x="511.30" y="255.95" font-size="9.5" text-anchor="end" textLength="140.80" lengthAdjust="spacingAndGlyphs" transform="rotate(0.03 511.30 255.95)">Ligand: H2B; Analyte: Prothrombin</text>
<text x="511.30" y="266.95" transform="rotate(0.03 511.3 264.2)" font-size="9.5" text-anchor="end" textLength="99.2" lengthAdjust="spacingAndGlyphs">K<tspan font-size="7" dy="2.2">d</tspan><tspan dy="-2.2"> = 0.35µM (± 0.06µM)</tspan></text>
<path d="M352.00 404.30 L352.17 403.92 L352.33 403.55 L352.50 403.18 L352.67 402.81 L352.83 402.41 L353.00 402.00 L353.55 400.46 L354.10 398.73 L354.65 396.91 L355.20 395.10 L355.75 393.40 L356.30 391.90 L357.32 389.50 L358.33 387.29 L359.35 385.24 L360.37 383.31 L361.38 381.48 L362.40 379.70 L363.75 377.36 L365.10 375.04 L366.45 372.83 L367.80 370.78 L369.15 368.98 L370.50 367.50 L372.20 365.96 L373.90 364.60 L375.60 363.39 L377.30 362.31 L379.00 361.32 L380.70 360.40 L382.73 359.38 L384.77 358.43 L386.80 357.57 L388.83 356.76 L390.87 356.01 L392.90 355.30 L394.93 354.58 L396.97 353.85 L399.00 353.15 L401.03 352.54 L403.07 352.07 L405.10 351.80 L405.75 351.76 L406.40 351.73 L407.05 351.71 L407.70 351.68 L408.35 351.65 L409.00 351.60 L409.40 351.52 L409.80 351.39 L410.20 351.22 L410.60 351.07 L411.00 350.95 L411.40 350.90 L411.70 351.09 L412.00 351.57 L412.30 352.24 L412.60 352.99 L412.90 353.71 L413.20 354.30 L413.88 355.37 L414.57 356.39 L415.25 357.35 L415.93 358.24 L416.62 359.06 L417.30 359.80 L418.48 360.98 L419.67 362.08 L420.85 363.08 L422.03 364.00 L423.22 364.80 L424.40 365.50 L426.10 366.36 L427.80 367.12 L429.50 367.79 L431.20 368.40 L432.90 368.96 L434.60 369.50 L436.63 370.12 L438.67 370.70 L440.70 371.25 L442.73 371.76 L444.77 372.21 L446.80 372.60 L450.12 373.14 L453.43 373.60 L456.75 374.02 L460.07 374.40 L463.38 374.79 L466.70 375.20" fill="none" stroke="#1d4789" stroke-width="1.6" stroke-linejoin="round" stroke-linecap="round"/>
<path d="M352.00 404.30 L352.17 403.77 L352.33 403.27 L352.50 402.77 L352.67 402.24 L352.83 401.66 L353.00 401.00 L353.55 398.12 L354.10 394.35 L354.65 390.06 L355.20 385.62 L355.75 381.38 L356.30 377.70 L356.97 373.75 L357.63 369.90 L358.30 366.24 L358.97 362.86 L359.63 359.85 L360.30 357.30 L361.32 353.98 L362.33 350.97 L363.35 348.29 L364.37 345.92 L365.38 343.85 L366.40 342.10 L367.77 340.04 L369.13 338.18 L370.50 336.53 L371.87 335.09 L373.23 333.88 L374.60 332.90 L376.63 331.71 L378.67 330.68 L380.70 329.78 L382.73 329.02 L384.77 328.36 L386.80 327.80 L389.17 327.18 L391.53 326.58 L393.90 326.04 L396.27 325.60 L398.63 325.31 L401.00 325.20 L402.37 325.21 L403.73 325.25 L405.10 325.30 L406.47 325.35 L407.83 325.39 L409.20 325.40 L409.73 325.36 L410.27 325.27 L410.80 325.15 L411.33 325.03 L411.87 324.94 L412.40 324.90 L412.53 324.98 L412.67 325.19 L412.80 325.49 L412.93 325.83 L413.07 326.18 L413.20 326.50 L413.37 326.86 L413.53 327.22 L413.70 327.59 L413.87 327.97 L414.03 328.37 L414.20 328.80 L414.72 330.33 L415.23 332.10 L415.75 333.99 L416.27 335.86 L416.78 337.58 L417.30 339.00 L418.15 340.95 L419.00 342.75 L419.85 344.38 L420.70 345.83 L421.55 347.11 L422.40 348.20 L423.75 349.68 L425.10 350.98 L426.45 352.13 L427.80 353.15 L429.15 354.06 L430.50 354.90 L432.53 356.06 L434.57 357.11 L436.60 358.07 L438.63 358.94 L440.67 359.71 L442.70 360.40 L444.73 361.02 L446.77 361.60 L448.80 362.12 L450.83 362.59 L452.87 363.02 L454.90 363.40 L456.87 363.72 L458.83 364.00 L460.80 364.26 L462.77 364.50 L464.73 364.74 L466.70 365.00" fill="none" stroke="#5cab2c" stroke-width="1.6" stroke-linejoin="round" stroke-linecap="round"/>
<path d="M352.00 404.30 L352.23 402.63 L352.47 401.00 L352.70 399.38 L352.93 397.71 L353.17 395.93 L353.40 394.00 L353.88 389.30 L354.37 383.85 L354.85 377.98 L355.33 372.05 L355.82 366.40 L356.30 361.40 L356.80 356.66 L357.30 351.99 L357.80 347.54 L358.30 343.46 L358.80 339.89 L359.30 337.00 L359.82 334.54 L360.33 332.35 L360.85 330.39 L361.37 328.66 L361.88 327.14 L362.40 325.80 L363.07 324.24 L363.73 322.79 L364.40 321.49 L365.07 320.35 L365.73 319.42 L366.40 318.70 L367.77 317.58 L369.13 316.63 L370.50 315.84 L371.87 315.18 L373.23 314.64 L374.60 314.20 L376.97 313.55 L379.33 312.98 L381.70 312.49 L384.07 312.09 L386.43 311.76 L388.80 311.50 L391.52 311.25 L394.23 311.01 L396.95 310.81 L399.67 310.65 L402.38 310.54 L405.10 310.50 L405.78 310.57 L406.47 310.76 L407.15 311.00 L407.83 311.24 L408.52 311.43 L409.20 311.50 L409.73 311.48 L410.27 311.42 L410.80 311.35 L411.33 311.28 L411.87 311.22 L412.40 311.20 L412.53 311.27 L412.67 311.48 L412.80 311.78 L412.93 312.16 L413.07 312.57 L413.20 313.00 L413.37 313.68 L413.53 314.59 L413.70 315.65 L413.87 316.75 L414.03 317.79 L414.20 318.70 L414.72 321.15 L415.23 323.49 L415.75 325.68 L416.27 327.68 L416.78 329.43 L417.30 330.90 L418.15 332.91 L419.00 334.67 L419.85 336.22 L420.70 337.60 L421.55 338.85 L422.40 340.00 L423.75 341.72 L425.10 343.30 L426.45 344.74 L427.80 346.04 L429.15 347.20 L430.50 348.20 L432.53 349.51 L434.57 350.66 L436.60 351.69 L438.63 352.62 L440.67 353.48 L442.70 354.30 L444.73 355.08 L446.77 355.81 L448.80 356.49 L450.83 357.13 L452.87 357.74 L454.90 358.30 L456.87 358.81 L458.83 359.27 L460.80 359.71 L462.77 360.14 L464.73 360.56 L466.70 361.00" fill="none" stroke="#e9911c" stroke-width="1.6" stroke-linejoin="round" stroke-linecap="round"/>
<path d="M352.00 404.30 L352.17 402.00 L352.33 399.79 L352.50 397.58 L352.67 395.28 L352.83 392.78 L353.00 390.00 L353.20 385.94 L353.40 381.09 L353.60 375.84 L353.80 370.56 L354.00 365.62 L354.20 361.40 L354.62 353.84 L355.03 346.76 L355.45 340.23 L355.87 334.35 L356.28 329.18 L356.70 324.80 L357.03 321.70 L357.37 318.79 L357.70 316.13 L358.03 313.81 L358.37 311.91 L358.70 310.50 L359.32 308.54 L359.93 306.85 L360.55 305.43 L361.17 304.29 L361.78 303.41 L362.40 302.80 L363.75 301.84 L365.10 301.05 L366.45 300.43 L367.80 299.93 L369.15 299.56 L370.50 299.30 L373.90 298.78 L377.30 298.34 L380.70 297.99 L384.10 297.72 L387.50 297.56 L390.90 297.50 L394.62 297.51 L398.33 297.54 L402.05 297.62 L405.77 297.76 L409.48 297.98 L413.20 298.30 L413.33 298.38 L413.47 298.56 L413.60 298.84 L413.73 299.18 L413.87 299.58 L414.00 300.00 L414.22 301.08 L414.43 302.77 L414.65 304.81 L414.87 306.95 L415.08 308.93 L415.30 310.50 L415.80 313.36 L416.30 315.99 L416.80 318.36 L417.30 320.46 L417.80 322.25 L418.30 323.70 L419.32 326.09 L420.33 328.13 L421.35 329.86 L422.37 331.36 L423.38 332.69 L424.40 333.90 L425.77 335.40 L427.13 336.73 L428.50 337.93 L429.87 339.03 L431.23 340.04 L432.60 341.00 L434.63 342.35 L436.67 343.61 L438.70 344.78 L440.73 345.87 L442.77 346.87 L444.80 347.80 L446.83 348.66 L448.87 349.45 L450.90 350.19 L452.93 350.89 L454.97 351.56 L457.00 352.20 L458.62 352.69 L460.23 353.15 L461.85 353.59 L463.47 354.02 L465.08 354.46 L466.70 354.90" fill="none" stroke="#531f78" stroke-width="1.6" stroke-linejoin="round" stroke-linecap="round"/>
<path d="M343.70 404.10 L345.05 404.18 L346.40 404.26 L347.75 404.35 L349.10 404.43 L350.45 404.48 L351.80 404.50 L351.97 404.14 L352.13 403.13 L352.30 401.60 L352.47 399.66 L352.63 397.42 L352.80 395.00 L352.97 391.50 L353.13 386.33 L353.30 380.13 L353.47 373.49 L353.63 367.05 L353.80 361.40 L354.05 353.70 L354.30 345.93 L354.55 338.42 L354.80 331.50 L355.05 325.48 L355.30 320.70 L355.53 317.00 L355.77 313.54 L356.00 310.44 L356.23 307.81 L356.47 305.76 L356.70 304.40 L357.30 302.14 L357.90 300.34 L358.50 298.92 L359.10 297.82 L359.70 296.97 L360.30 296.30 L361.32 295.35 L362.33 294.54 L363.35 293.87 L364.37 293.33 L365.38 292.91 L366.40 292.60 L368.78 292.07 L371.17 291.64 L373.55 291.30 L375.93 291.03 L378.32 290.80 L380.70 290.60 L383.75 290.36 L386.80 290.12 L389.85 289.92 L392.90 289.75 L395.95 289.64 L399.00 289.60 L401.37 289.61 L403.73 289.66 L406.10 289.76 L408.47 289.94 L410.83 290.21 L413.20 290.60 L413.32 290.67 L413.43 290.81 L413.55 291.03 L413.67 291.31 L413.78 291.63 L413.90 292.00 L414.05 292.90 L414.20 294.45 L414.35 296.38 L414.50 298.45 L414.65 300.41 L414.80 302.00 L415.05 304.15 L415.30 306.18 L415.55 308.06 L415.80 309.77 L416.05 311.30 L416.30 312.60 L416.80 314.84 L417.30 316.83 L417.80 318.59 L418.30 320.14 L418.80 321.50 L419.30 322.70 L420.15 324.50 L421.00 326.09 L421.85 327.50 L422.70 328.75 L423.55 329.88 L424.40 330.90 L425.77 332.40 L427.13 333.75 L428.50 334.97 L429.87 336.08 L431.23 337.08 L432.60 338.00 L434.63 339.25 L436.67 340.38 L438.70 341.42 L440.73 342.38 L442.77 343.26 L444.80 344.10 L446.83 344.89 L448.87 345.62 L450.90 346.31 L452.93 346.96 L454.97 347.59 L457.00 348.20 L458.62 348.67 L460.23 349.11 L461.85 349.54 L463.47 349.95 L465.08 350.37 L466.70 350.80" fill="none" stroke="#3c4960" stroke-width="1.6" stroke-linejoin="round" stroke-linecap="round"/>
<path d="M344.00 405.80 L353.33 405.80 L362.67 405.80 L372.00 405.80 L381.33 405.80 L390.67 405.80 L400.00 405.80 L411.33 405.80 L422.67 405.80 L434.00 405.80 L445.33 405.80 L456.67 405.80 L468.00 405.80" fill="none" stroke="#ad113a" stroke-width="1.6" stroke-linejoin="round" stroke-linecap="round"/>
<line x1="343.75" y1="275.05" x2="343.75" y2="406.75" stroke="#000" stroke-width="1.1"/>
<line x1="343.25" y1="406.25" x2="477.50" y2="406.25" stroke="#000" stroke-width="1.1"/>
<line x1="340.55" y1="406.25" x2="343.75" y2="406.25" stroke="#000" stroke-width="1.15"/>
<text x="336.70" y="409.02" font-size="9.2" text-anchor="end" textLength="4.90" lengthAdjust="spacingAndGlyphs" transform="rotate(0.03 336.70 409.02)">0</text>
<line x1="340.55" y1="393.45" x2="343.75" y2="393.45" stroke="#000" stroke-width="1.15"/>
<text x="336.70" y="396.22" font-size="9.2" text-anchor="end" textLength="14.70" lengthAdjust="spacingAndGlyphs" transform="rotate(0.03 336.70 396.22)">500</text>
<line x1="340.55" y1="380.65" x2="343.75" y2="380.65" stroke="#000" stroke-width="1.15"/>
<text x="336.70" y="383.42" font-size="9.2" text-anchor="end" textLength="19.60" lengthAdjust="spacingAndGlyphs" transform="rotate(0.03 336.70 383.42)">1000</text>
<line x1="340.55" y1="367.85" x2="343.75" y2="367.85" stroke="#000" stroke-width="1.15"/>
<text x="336.70" y="370.62" font-size="9.2" text-anchor="end" textLength="19.60" lengthAdjust="spacingAndGlyphs" transform="rotate(0.03 336.70 370.62)">1500</text>
<line x1="340.55" y1="355.05" x2="343.75" y2="355.05" stroke="#000" stroke-width="1.15"/>
<text x="336.70" y="357.82" font-size="9.2" text-anchor="end" textLength="19.60" lengthAdjust="spacingAndGlyphs" transform="rotate(0.03 336.70 357.82)">2000</text>
<line x1="340.55" y1="342.25" x2="343.75" y2="342.25" stroke="#000" stroke-width="1.15"/>
<text x="336.70" y="345.02" font-size="9.2" text-anchor="end" textLength="19.60" lengthAdjust="spacingAndGlyphs" transform="rotate(0.03 336.70 345.02)">2500</text>
<line x1="340.55" y1="329.45" x2="343.75" y2="329.45" stroke="#000" stroke-width="1.15"/>
<text x="336.70" y="332.22" font-size="9.2" text-anchor="end" textLength="19.60" lengthAdjust="spacingAndGlyphs" transform="rotate(0.03 336.70 332.22)">3000</text>
<line x1="340.55" y1="316.65" x2="343.75" y2="316.65" stroke="#000" stroke-width="1.15"/>
<text x="336.70" y="319.42" font-size="9.2" text-anchor="end" textLength="19.60" lengthAdjust="spacingAndGlyphs" transform="rotate(0.03 336.70 319.42)">3500</text>
<line x1="340.55" y1="303.85" x2="343.75" y2="303.85" stroke="#000" stroke-width="1.15"/>
<text x="336.70" y="306.62" font-size="9.2" text-anchor="end" textLength="19.60" lengthAdjust="spacingAndGlyphs" transform="rotate(0.03 336.70 306.62)">4000</text>
<line x1="340.55" y1="291.05" x2="343.75" y2="291.05" stroke="#000" stroke-width="1.15"/>
<text x="336.70" y="293.82" font-size="9.2" text-anchor="end" textLength="19.60" lengthAdjust="spacingAndGlyphs" transform="rotate(0.03 336.70 293.82)">4500</text>
<line x1="340.55" y1="278.25" x2="343.75" y2="278.25" stroke="#000" stroke-width="1.15"/>
<text x="336.70" y="281.02" font-size="9.2" text-anchor="end" textLength="19.60" lengthAdjust="spacingAndGlyphs" transform="rotate(0.03 336.70 281.02)">5000</text>
<line x1="354.25" y1="406.25" x2="354.25" y2="409.85" stroke="#000" stroke-width="1.2"/>
<text x="354.25" y="421.15" font-size="9.2" text-anchor="middle" textLength="4.90" lengthAdjust="spacingAndGlyphs" transform="rotate(0.03 354.25 421.15)">0</text>
<line x1="373.45" y1="406.25" x2="373.45" y2="409.85" stroke="#000" stroke-width="1.2"/>
<text x="373.45" y="421.15" font-size="9.2" text-anchor="middle" textLength="9.80" lengthAdjust="spacingAndGlyphs" transform="rotate(0.03 373.45 421.15)">20</text>
<line x1="392.65" y1="406.25" x2="392.65" y2="409.85" stroke="#000" stroke-width="1.2"/>
<text x="392.65" y="421.15" font-size="9.2" text-anchor="middle" textLength="9.80" lengthAdjust="spacingAndGlyphs" transform="rotate(0.03 392.65 421.15)">40</text>
<line x1="411.85" y1="406.25" x2="411.85" y2="409.85" stroke="#000" stroke-width="1.2"/>
<text x="411.85" y="421.15" font-size="9.2" text-anchor="middle" textLength="9.80" lengthAdjust="spacingAndGlyphs" transform="rotate(0.03 411.85 421.15)">60</text>
<line x1="431.05" y1="406.25" x2="431.05" y2="409.85" stroke="#000" stroke-width="1.2"/>
<text x="431.05" y="421.15" font-size="9.2" text-anchor="middle" textLength="9.80" lengthAdjust="spacingAndGlyphs" transform="rotate(0.03 431.05 421.15)">80</text>
<line x1="450.25" y1="406.25" x2="450.25" y2="409.85" stroke="#000" stroke-width="1.2"/>
<text x="450.25" y="421.15" font-size="9.2" text-anchor="middle" textLength="14.70" lengthAdjust="spacingAndGlyphs" transform="rotate(0.03 450.25 421.15)">100</text>
<line x1="469.45" y1="406.25" x2="469.45" y2="409.85" stroke="#000" stroke-width="1.2"/>
<text x="469.45" y="421.15" font-size="9.2" text-anchor="middle" textLength="14.70" lengthAdjust="spacingAndGlyphs" transform="rotate(0.03 469.45 421.15)">120</text>
<text x="410.50" y="434.50" font-size="10.5" text-anchor="middle" textLength="30.00" lengthAdjust="spacingAndGlyphs" transform="rotate(0.03 410.50 434.50)">Time (s)</text>
<text x="310.50" y="340.20" font-size="10.5" text-anchor="middle" textLength="55.20" lengthAdjust="spacingAndGlyphs" transform="rotate(-90 310.50 340.20)">Response (RU)</text>
<text x="477.00" y="346.20" font-size="9" textLength="30.50" lengthAdjust="spacingAndGlyphs" transform="rotate(0.03 477.00 346.20)">3.00µM</text>
<text x="477.00" y="354.50" font-size="9" textLength="30.50" lengthAdjust="spacingAndGlyphs" transform="rotate(0.03 477.00 354.50)">1.50µM</text>
<text x="477.00" y="363.20" font-size="9" textLength="30.50" lengthAdjust="spacingAndGlyphs" transform="rotate(0.03 477.00 363.20)">1.00µM</text>
<text x="477.00" y="370.70" font-size="9" textLength="30.50" lengthAdjust="spacingAndGlyphs" transform="rotate(0.03 477.00 370.70)">0.75µM</text>
<text x="477.00" y="380.70" font-size="9" textLength="30.50" lengthAdjust="spacingAndGlyphs" transform="rotate(0.03 477.00 380.70)">0.50µM</text>
<text x="477.00" y="403.90" font-size="9" textLength="30.50" lengthAdjust="spacingAndGlyphs" transform="rotate(0.03 477.00 403.90)">0.25µM</text>
<text x="8.50" y="460.10" font-size="13.5" font-weight="bold" transform="rotate(0.03 8.50 460.10)" fill="#000">F</text>
<text x="220.50" y="473.20" font-size="9.5" text-anchor="end" textLength="135.80" lengthAdjust="spacingAndGlyphs" transform="rotate(0.03 220.50 473.20)">Ligand: H3; Analyte: Prothrombin</text>
<text x="220.50" y="484.20" transform="rotate(0.03 220.5 481.5)" font-size="9.5" text-anchor="end" textLength="99.4" lengthAdjust="spacingAndGlyphs">K<tspan font-size="7" dy="2.2">d</tspan><tspan dy="-2.2"> = 1.09µM (± 0.39µM)</tspan></text>
<path d="M64.30 597.90 L65.65 595.64 L67.00 593.32 L68.35 590.99 L69.70 588.73 L71.05 586.61 L72.40 584.70 L74.10 582.49 L75.80 580.38 L77.50 578.39 L79.20 576.57 L80.90 574.92 L82.60 573.50 L84.63 572.02 L86.67 570.68 L88.70 569.47 L90.73 568.36 L92.77 567.35 L94.80 566.40 L96.83 565.43 L98.87 564.42 L100.90 563.46 L102.93 562.66 L104.97 562.11 L107.00 561.90 L108.70 561.90 L110.40 561.90 L112.10 561.90 L113.80 561.90 L115.50 561.90 L117.20 561.90 L117.98 561.84 L118.77 561.69 L119.55 561.50 L120.33 561.31 L121.12 561.16 L121.90 561.10 L122.47 561.35 L123.03 561.99 L123.60 562.87 L124.17 563.83 L124.73 564.73 L125.30 565.40 L126.13 566.12 L126.97 566.78 L127.80 567.38 L128.63 567.91 L129.47 568.39 L130.30 568.80 L132.00 569.54 L133.70 570.20 L135.40 570.78 L137.10 571.29 L138.80 571.73 L140.50 572.10 L142.88 572.54 L145.27 572.92 L147.65 573.26 L150.03 573.55 L152.42 573.83 L154.80 574.10 L160.15 574.67 L165.50 575.17 L170.85 575.64 L176.20 576.09 L181.55 576.53 L186.90 577.00" fill="none" stroke="#1d4789" stroke-width="1.6" stroke-linejoin="round" stroke-linecap="round"/>
<path d="M64.30 597.90 L64.67 596.25 L65.03 594.60 L65.40 592.95 L65.77 591.30 L66.13 589.65 L66.50 588.00 L67.15 584.96 L67.80 581.78 L68.45 578.60 L69.10 575.56 L69.75 572.81 L70.40 570.50 L71.42 567.41 L72.43 564.57 L73.45 562.00 L74.47 559.73 L75.48 557.79 L76.50 556.20 L77.85 554.43 L79.20 552.86 L80.55 551.47 L81.90 550.28 L83.25 549.29 L84.60 548.50 L86.63 547.53 L88.67 546.71 L90.70 546.00 L92.73 545.39 L94.77 544.86 L96.80 544.40 L98.67 543.99 L100.53 543.57 L102.40 543.20 L104.27 542.89 L106.13 542.68 L108.00 542.60 L109.18 542.67 L110.37 542.86 L111.55 543.10 L112.73 543.34 L113.92 543.53 L115.10 543.60 L116.23 543.51 L117.37 543.29 L118.50 543.00 L119.63 542.71 L120.77 542.49 L121.90 542.40 L122.05 542.47 L122.20 542.67 L122.35 542.96 L122.50 543.30 L122.65 543.66 L122.80 544.00 L123.03 544.58 L123.27 545.28 L123.50 546.03 L123.73 546.79 L123.97 547.50 L124.20 548.10 L124.88 549.59 L125.57 550.95 L126.25 552.19 L126.93 553.31 L127.62 554.32 L128.30 555.20 L129.32 556.38 L130.33 557.45 L131.35 558.42 L132.37 559.29 L133.38 560.05 L134.40 560.70 L136.10 561.65 L137.80 562.49 L139.50 563.24 L141.20 563.90 L142.90 564.48 L144.60 565.00 L146.97 565.65 L149.33 566.23 L151.70 566.75 L154.07 567.22 L156.43 567.64 L158.80 568.00 L163.48 568.62 L168.17 569.14 L172.85 569.59 L177.53 570.02 L182.22 570.44 L186.90 570.90" fill="none" stroke="#5cab2c" stroke-width="1.6" stroke-linejoin="round" stroke-linecap="round"/>
<path d="M64.30 597.90 L64.58 595.79 L64.87 593.72 L65.15 591.65 L65.43 589.54 L65.72 587.33 L66.00 585.00 L66.38 581.36 L66.77 577.22 L67.15 572.90 L67.53 568.74 L67.92 565.10 L68.30 562.30 L68.98 558.48 L69.67 555.09 L70.35 552.14 L71.03 549.64 L71.72 547.59 L72.40 546.00 L73.42 544.13 L74.43 542.54 L75.45 541.19 L76.47 540.05 L77.48 539.10 L78.50 538.30 L80.20 537.17 L81.90 536.21 L83.60 535.39 L85.30 534.67 L87.00 534.02 L88.70 533.40 L91.07 532.52 L93.43 531.64 L95.80 530.82 L98.17 530.13 L100.53 529.64 L102.90 529.40 L104.60 529.35 L106.30 529.33 L108.00 529.31 L109.70 529.29 L111.40 529.26 L113.10 529.20 L113.78 529.10 L114.47 528.89 L115.15 528.63 L115.83 528.37 L116.52 528.18 L117.20 528.10 L117.98 528.10 L118.77 528.10 L119.55 528.10 L120.33 528.10 L121.12 528.10 L121.90 528.10 L122.02 528.19 L122.13 528.43 L122.25 528.77 L122.37 529.18 L122.48 529.60 L122.60 530.00 L122.80 530.70 L123.00 531.50 L123.20 532.36 L123.40 533.22 L123.60 534.05 L123.80 534.80 L124.38 536.80 L124.97 538.74 L125.55 540.57 L126.13 542.25 L126.72 543.74 L127.30 545.00 L128.15 546.56 L129.00 547.96 L129.85 549.21 L130.70 550.31 L131.55 551.27 L132.40 552.10 L133.75 553.24 L135.10 554.24 L136.45 555.13 L137.80 555.91 L139.15 556.60 L140.50 557.20 L142.20 557.86 L143.90 558.44 L145.60 558.96 L147.30 559.43 L149.00 559.87 L150.70 560.30 L153.07 560.89 L155.43 561.45 L157.80 561.98 L160.17 562.47 L162.53 562.91 L164.90 563.30 L168.57 563.81 L172.23 564.26 L175.90 564.65 L179.57 565.03 L183.23 565.40 L186.90 565.80" fill="none" stroke="#e9911c" stroke-width="1.6" stroke-linejoin="round" stroke-linecap="round"/>
<path d="M64.30 597.90 L64.50 595.80 L64.70 593.77 L64.90 591.74 L65.10 589.65 L65.30 587.42 L65.50 585.00 L65.80 580.57 L66.10 575.25 L66.40 569.61 L66.70 564.18 L67.00 559.53 L67.30 556.20 L67.82 552.25 L68.33 548.91 L68.85 546.09 L69.37 543.71 L69.88 541.67 L70.40 539.90 L71.07 537.85 L71.73 536.00 L72.40 534.36 L73.07 532.94 L73.73 531.75 L74.40 530.80 L75.43 529.60 L76.47 528.57 L77.50 527.69 L78.53 526.94 L79.57 526.28 L80.60 525.70 L82.63 524.68 L84.67 523.78 L86.70 522.99 L88.73 522.30 L90.77 521.71 L92.80 521.20 L95.50 520.59 L98.20 520.01 L100.90 519.49 L103.60 519.07 L106.30 518.76 L109.00 518.60 L111.15 518.54 L113.30 518.50 L115.45 518.46 L117.60 518.43 L119.75 518.41 L121.90 518.40 L122.02 518.49 L122.13 518.74 L122.25 519.11 L122.37 519.55 L122.48 520.03 L122.60 520.50 L122.80 521.45 L123.00 522.65 L123.20 523.99 L123.40 525.36 L123.60 526.63 L123.80 527.70 L124.38 530.30 L124.97 532.72 L125.55 534.91 L126.13 536.86 L126.72 538.53 L127.30 539.90 L128.15 541.55 L129.00 542.99 L129.85 544.25 L130.70 545.34 L131.55 546.29 L132.40 547.10 L133.75 548.21 L135.10 549.16 L136.45 550.00 L137.80 550.75 L139.15 551.44 L140.50 552.10 L142.20 552.92 L143.90 553.69 L145.60 554.41 L147.30 555.07 L149.00 555.67 L150.70 556.20 L153.07 556.85 L155.43 557.43 L157.80 557.96 L160.17 558.44 L162.53 558.88 L164.90 559.30 L168.57 559.89 L172.23 560.41 L175.90 560.89 L179.57 561.36 L183.23 561.82 L186.90 562.30" fill="none" stroke="#531f78" stroke-width="1.6" stroke-linejoin="round" stroke-linecap="round"/>
<path d="M52.50 597.90 L54.47 597.90 L56.43 597.90 L58.40 597.90 L60.37 597.90 L62.33 597.90 L64.30 597.90 L64.47 597.36 L64.63 595.88 L64.80 593.68 L64.97 590.98 L65.13 588.02 L65.30 585.00 L65.47 581.28 L65.63 576.42 L65.80 570.95 L65.97 565.41 L66.13 560.31 L66.30 556.20 L66.63 549.40 L66.97 542.95 L67.30 537.09 L67.63 532.10 L67.97 528.21 L68.30 525.70 L68.82 523.26 L69.33 521.27 L69.85 519.68 L70.37 518.40 L70.88 517.37 L71.40 516.50 L72.25 515.29 L73.10 514.27 L73.95 513.42 L74.80 512.68 L75.65 512.02 L76.50 511.40 L77.85 510.49 L79.20 509.67 L80.55 508.94 L81.90 508.27 L83.25 507.63 L84.60 507.00 L86.30 506.22 L88.00 505.48 L89.70 504.77 L91.40 504.10 L93.10 503.48 L94.80 502.90 L96.83 502.25 L98.87 501.64 L100.90 501.06 L102.93 500.53 L104.97 500.04 L107.00 499.60 L109.48 499.07 L111.97 498.53 L114.45 498.02 L116.93 497.60 L119.42 497.31 L121.90 497.20 L122.02 497.32 L122.13 497.66 L122.25 498.15 L122.37 498.74 L122.48 499.38 L122.60 500.00 L122.80 501.24 L123.00 502.80 L123.20 504.55 L123.40 506.32 L123.60 507.99 L123.80 509.40 L124.22 511.91 L124.63 514.26 L125.05 516.43 L125.47 518.39 L125.88 520.12 L126.30 521.60 L126.97 523.64 L127.63 525.47 L128.30 527.09 L128.97 528.52 L129.63 529.75 L130.30 530.80 L131.32 532.17 L132.33 533.37 L133.35 534.42 L134.37 535.35 L135.38 536.17 L136.40 536.90 L138.10 538.00 L139.80 538.98 L141.50 539.85 L143.20 540.63 L144.90 541.34 L146.60 542.00 L148.63 542.73 L150.67 543.39 L152.70 544.00 L154.73 544.57 L156.77 545.10 L158.80 545.60 L161.18 546.16 L163.57 546.68 L165.95 547.18 L168.33 547.65 L170.72 548.09 L173.10 548.50 L175.40 548.87 L177.70 549.22 L180.00 549.54 L182.30 549.86 L184.60 550.17 L186.90 550.50" fill="none" stroke="#3c4960" stroke-width="1.6" stroke-linejoin="round" stroke-linecap="round"/>
<path d="M52.50 599.50 L61.25 599.47 L70.00 599.45 L78.75 599.43 L87.50 599.40 L96.25 599.36 L105.00 599.30 L109.22 599.20 L113.43 598.99 L117.65 598.71 L121.87 598.41 L126.08 598.13 L130.30 597.90 L135.05 597.69 L139.80 597.48 L144.55 597.29 L149.30 597.12 L154.05 596.98 L158.80 596.90 L163.48 596.85 L168.17 596.81 L172.85 596.78 L177.53 596.76 L182.22 596.73 L186.90 596.70" fill="none" stroke="#ad113a" stroke-width="2.0" stroke-linejoin="round" stroke-linecap="round"/>
<line x1="52.50" y1="470.55" x2="52.50" y2="600.25" stroke="#000" stroke-width="1.1"/>
<line x1="52.00" y1="599.75" x2="186.75" y2="599.75" stroke="#000" stroke-width="1.1"/>
<line x1="49.30" y1="599.75" x2="52.50" y2="599.75" stroke="#000" stroke-width="1.15"/>
<text x="45.90" y="602.52" font-size="9.2" text-anchor="end" textLength="4.90" lengthAdjust="spacingAndGlyphs" transform="rotate(0.03 45.90 602.52)">0</text>
<line x1="49.30" y1="574.55" x2="52.50" y2="574.55" stroke="#000" stroke-width="1.15"/>
<text x="45.90" y="577.32" font-size="9.2" text-anchor="end" textLength="14.70" lengthAdjust="spacingAndGlyphs" transform="rotate(0.03 45.90 577.32)">500</text>
<line x1="49.30" y1="549.35" x2="52.50" y2="549.35" stroke="#000" stroke-width="1.15"/>
<text x="45.90" y="552.12" font-size="9.2" text-anchor="end" textLength="19.60" lengthAdjust="spacingAndGlyphs" transform="rotate(0.03 45.90 552.12)">1000</text>
<line x1="49.30" y1="524.15" x2="52.50" y2="524.15" stroke="#000" stroke-width="1.15"/>
<text x="45.90" y="526.92" font-size="9.2" text-anchor="end" textLength="19.60" lengthAdjust="spacingAndGlyphs" transform="rotate(0.03 45.90 526.92)">1500</text>
<line x1="49.30" y1="498.95" x2="52.50" y2="498.95" stroke="#000" stroke-width="1.15"/>
<text x="45.90" y="501.72" font-size="9.2" text-anchor="end" textLength="19.60" lengthAdjust="spacingAndGlyphs" transform="rotate(0.03 45.90 501.72)">2000</text>
<line x1="49.30" y1="473.75" x2="52.50" y2="473.75" stroke="#000" stroke-width="1.15"/>
<text x="45.90" y="476.52" font-size="9.2" text-anchor="end" textLength="19.60" lengthAdjust="spacingAndGlyphs" transform="rotate(0.03 45.90 476.52)">2500</text>
<line x1="62.00" y1="599.75" x2="62.00" y2="603.35" stroke="#000" stroke-width="1.2"/>
<text x="62.00" y="614.65" font-size="9.2" text-anchor="middle" textLength="4.90" lengthAdjust="spacingAndGlyphs" transform="rotate(0.03 62.00 614.65)">0</text>
<line x1="82.25" y1="599.75" x2="82.25" y2="603.35" stroke="#000" stroke-width="1.2"/>
<text x="82.25" y="614.65" font-size="9.2" text-anchor="middle" textLength="9.80" lengthAdjust="spacingAndGlyphs" transform="rotate(0.03 82.25 614.65)">20</text>
<line x1="102.50" y1="599.75" x2="102.50" y2="603.35" stroke="#000" stroke-width="1.2"/>
<text x="102.50" y="614.65" font-size="9.2" text-anchor="middle" textLength="9.80" lengthAdjust="spacingAndGlyphs" transform="rotate(0.03 102.50 614.65)">40</text>
<line x1="122.75" y1="599.75" x2="122.75" y2="603.35" stroke="#000" stroke-width="1.2"/>
<text x="122.75" y="614.65" font-size="9.2" text-anchor="middle" textLength="9.80" lengthAdjust="spacingAndGlyphs" transform="rotate(0.03 122.75 614.65)">60</text>
<line x1="143.00" y1="599.75" x2="143.00" y2="603.35" stroke="#000" stroke-width="1.2"/>
<text x="143.00" y="614.65" font-size="9.2" text-anchor="middle" textLength="9.80" lengthAdjust="spacingAndGlyphs" transform="rotate(0.03 143.00 614.65)">80</text>
<line x1="163.25" y1="599.75" x2="163.25" y2="603.35" stroke="#000" stroke-width="1.2"/>
<text x="163.25" y="614.65" font-size="9.2" text-anchor="middle" textLength="14.70" lengthAdjust="spacingAndGlyphs" transform="rotate(0.03 163.25 614.65)">100</text>
<line x1="183.50" y1="599.75" x2="183.50" y2="603.35" stroke="#000" stroke-width="1.2"/>
<text x="183.50" y="614.65" font-size="9.2" text-anchor="middle" textLength="14.70" lengthAdjust="spacingAndGlyphs" transform="rotate(0.03 183.50 614.65)">120</text>
<text x="119.00" y="629.00" font-size="10.5" text-anchor="middle" textLength="30.00" lengthAdjust="spacingAndGlyphs" transform="rotate(0.03 119.00 629.00)">Time (s)</text>
<text x="19.50" y="535.20" font-size="10.5" text-anchor="middle" textLength="55.20" lengthAdjust="spacingAndGlyphs" transform="rotate(-90 19.50 535.20)">Response (RU)</text>
<text x="189.50" y="547.50" font-size="9" textLength="30.50" lengthAdjust="spacingAndGlyphs" transform="rotate(0.03 189.50 547.50)">3.00µM</text>
<text x="189.50" y="556.20" font-size="9" textLength="30.50" lengthAdjust="spacingAndGlyphs" transform="rotate(0.03 189.50 556.20)">1.50µM</text>
<text x="189.50" y="563.90" font-size="9" textLength="30.50" lengthAdjust="spacingAndGlyphs" transform="rotate(0.03 189.50 563.90)">1.00µM</text>
<text x="189.50" y="572.70" font-size="9" textLength="30.50" lengthAdjust="spacingAndGlyphs" transform="rotate(0.03 189.50 572.70)">0.75µM</text>
<text x="189.50" y="582.70" font-size="9" textLength="30.50" lengthAdjust="spacingAndGlyphs" transform="rotate(0.03 189.50 582.70)">0.50µM</text>
<text x="189.50" y="599.50" font-size="9" textLength="30.50" lengthAdjust="spacingAndGlyphs" transform="rotate(0.03 189.50 599.50)">0.25µM</text>
<text x="236.90" y="460.10" font-size="13.5" font-weight="bold" transform="rotate(0.03 236.90 460.10)" fill="#000">G</text>
<text x="447.50" y="475.45" font-size="9.5" text-anchor="end" textLength="136.00" lengthAdjust="spacingAndGlyphs" transform="rotate(0.03 447.50 475.45)">Ligand: H4; Analyte: Prothrombin</text>
<text x="447.50" y="485.95" transform="rotate(0.03 447.5 483.2)" font-size="9.5" text-anchor="end" textLength="99.2" lengthAdjust="spacingAndGlyphs">K<tspan font-size="7" dy="2.2">d</tspan><tspan dy="-2.2"> = 0.57µM (± 0.39µM)</tspan></text>
<path d="M290.30 598.90 L290.50 598.43 L290.70 597.98 L290.90 597.52 L291.10 597.05 L291.30 596.55 L291.50 596.00 L292.13 593.85 L292.77 591.22 L293.40 588.34 L294.03 585.46 L294.67 582.80 L295.30 580.60 L296.33 577.66 L297.37 575.00 L298.40 572.59 L299.43 570.38 L300.47 568.33 L301.50 566.40 L302.52 564.56 L303.53 562.79 L304.55 561.11 L305.57 559.59 L306.58 558.27 L307.60 557.20 L308.62 556.32 L309.63 555.53 L310.65 554.83 L311.67 554.21 L312.68 553.67 L313.70 553.20 L315.38 552.50 L317.07 551.85 L318.75 551.27 L320.43 550.78 L322.12 550.38 L323.80 550.10 L325.83 549.84 L327.87 549.60 L329.90 549.40 L331.93 549.24 L333.97 549.14 L336.00 549.10 L337.02 549.11 L338.03 549.15 L339.05 549.20 L340.07 549.25 L341.08 549.29 L342.10 549.30 L342.58 549.24 L343.07 549.09 L343.55 548.90 L344.03 548.71 L344.52 548.56 L345.00 548.50 L345.37 548.71 L345.73 549.25 L346.10 549.99 L346.47 550.80 L346.83 551.55 L347.20 552.10 L348.05 553.01 L348.90 553.83 L349.75 554.55 L350.60 555.19 L351.45 555.74 L352.30 556.20 L353.82 556.92 L355.33 557.56 L356.85 558.12 L358.37 558.60 L359.88 558.99 L361.40 559.30 L363.78 559.68 L366.17 559.99 L368.55 560.25 L370.93 560.48 L373.32 560.69 L375.70 560.90 L378.42 561.13 L381.13 561.36 L383.85 561.56 L386.57 561.75 L389.28 561.93 L392.00 562.10 L395.45 562.29 L398.90 562.47 L402.35 562.63 L405.80 562.78 L409.25 562.94 L412.70 563.10" fill="none" stroke="#1d4789" stroke-width="1.6" stroke-linejoin="round" stroke-linecap="round"/>
<path d="M290.30 598.90 L290.58 597.79 L290.87 596.74 L291.15 595.68 L291.43 594.58 L291.72 593.37 L292.00 592.00 L292.55 588.65 L293.10 584.48 L293.65 579.83 L294.20 575.05 L294.75 570.46 L295.30 566.40 L295.82 562.82 L296.33 559.14 L296.85 555.60 L297.37 552.43 L297.88 549.85 L298.40 548.10 L299.08 546.55 L299.77 545.22 L300.45 544.11 L301.13 543.21 L301.82 542.51 L302.50 542.00 L303.68 541.35 L304.87 540.82 L306.05 540.39 L307.23 540.04 L308.42 539.75 L309.60 539.50 L311.63 539.12 L313.67 538.78 L315.70 538.50 L317.73 538.25 L319.77 538.05 L321.80 537.90 L324.17 537.76 L326.53 537.64 L328.90 537.54 L331.27 537.45 L333.63 537.37 L336.00 537.30 L337.43 537.26 L338.87 537.21 L340.30 537.17 L341.73 537.13 L343.17 537.11 L344.60 537.10 L344.77 537.16 L344.93 537.33 L345.10 537.57 L345.27 537.87 L345.43 538.19 L345.60 538.50 L345.87 539.10 L346.13 539.88 L346.40 540.75 L346.67 541.62 L346.93 542.40 L347.20 543.00 L347.88 544.18 L348.57 545.22 L349.25 546.13 L349.93 546.91 L350.62 547.57 L351.30 548.10 L352.65 548.96 L354.00 549.69 L355.35 550.31 L356.70 550.84 L358.05 551.29 L359.40 551.70 L361.43 552.25 L363.47 552.73 L365.50 553.16 L367.53 553.54 L369.57 553.88 L371.60 554.20 L375.00 554.70 L378.40 555.17 L381.80 555.59 L385.20 555.97 L388.60 556.31 L392.00 556.60 L395.45 556.85 L398.90 557.06 L402.35 557.25 L405.80 557.43 L409.25 557.61 L412.70 557.80" fill="none" stroke="#5cab2c" stroke-width="1.6" stroke-linejoin="round" stroke-linecap="round"/>
<path d="M290.30 598.90 L290.55 597.17 L290.80 595.53 L291.05 593.90 L291.30 592.16 L291.55 590.23 L291.80 588.00 L292.05 585.11 L292.30 581.48 L292.55 577.46 L292.80 573.38 L293.05 569.58 L293.30 566.40 L293.82 560.78 L294.33 555.43 L294.85 550.51 L295.37 546.18 L295.88 542.59 L296.40 539.90 L296.90 537.86 L297.40 536.03 L297.90 534.43 L298.40 533.10 L298.90 532.08 L299.40 531.40 L300.42 530.51 L301.43 529.82 L302.45 529.28 L303.47 528.85 L304.48 528.47 L305.50 528.10 L307.20 527.49 L308.90 526.92 L310.60 526.41 L312.30 525.96 L314.00 525.59 L315.70 525.30 L317.73 525.00 L319.77 524.72 L321.80 524.48 L323.83 524.28 L325.87 524.15 L327.90 524.10 L329.08 524.10 L330.27 524.10 L331.45 524.10 L332.63 524.10 L333.82 524.10 L335.00 524.10 L335.85 524.19 L336.70 524.41 L337.55 524.70 L338.40 524.99 L339.25 525.21 L340.10 525.30 L340.95 525.21 L341.80 524.99 L342.65 524.70 L343.50 524.41 L344.35 524.19 L345.20 524.10 L345.33 524.16 L345.47 524.32 L345.60 524.56 L345.73 524.85 L345.87 525.17 L346.00 525.50 L346.13 525.90 L346.27 526.43 L346.40 527.02 L346.53 527.63 L346.67 528.21 L346.80 528.70 L347.20 529.96 L347.60 531.16 L348.00 532.26 L348.40 533.25 L348.80 534.11 L349.20 534.80 L350.05 536.00 L350.90 537.04 L351.75 537.93 L352.60 538.70 L353.45 539.35 L354.30 539.90 L355.83 540.75 L357.37 541.47 L358.90 542.10 L360.43 542.64 L361.97 543.14 L363.50 543.60 L365.53 544.18 L367.57 544.70 L369.60 545.18 L371.63 545.62 L373.67 546.03 L375.70 546.40 L378.42 546.86 L381.13 547.29 L383.85 547.69 L386.57 548.05 L389.28 548.39 L392.00 548.70 L395.45 549.05 L398.90 549.37 L402.35 549.66 L405.80 549.93 L409.25 550.21 L412.70 550.50" fill="none" stroke="#e9911c" stroke-width="1.6" stroke-linejoin="round" stroke-linecap="round"/>
<path d="M290.30 598.90 L290.55 596.66 L290.80 594.51 L291.05 592.37 L291.30 590.13 L291.55 587.70 L291.80 585.00 L292.05 581.87 L292.30 578.30 L292.55 574.43 L292.80 570.38 L293.05 566.30 L293.30 562.30 L293.63 556.49 L293.97 549.95 L294.30 543.34 L294.63 537.33 L294.97 532.59 L295.30 529.80 L295.82 527.55 L296.33 525.74 L296.85 524.29 L297.37 523.16 L297.88 522.28 L298.40 521.60 L299.25 520.69 L300.10 519.93 L300.95 519.30 L301.80 518.78 L302.65 518.36 L303.50 518.00 L305.20 517.39 L306.90 516.87 L308.60 516.42 L310.30 516.05 L312.00 515.75 L313.70 515.50 L316.07 515.20 L318.43 514.92 L320.80 514.67 L323.17 514.48 L325.53 514.35 L327.90 514.30 L330.27 514.31 L332.63 514.35 L335.00 514.41 L337.37 514.49 L339.73 514.59 L342.10 514.70 L342.78 514.73 L343.47 514.76 L344.15 514.80 L344.83 514.87 L345.52 514.96 L346.20 515.10 L346.33 515.19 L346.47 515.40 L346.60 515.70 L346.73 516.08 L346.87 516.52 L347.00 517.00 L347.10 517.53 L347.20 518.31 L347.30 519.22 L347.40 520.15 L347.50 520.98 L347.60 521.60 L348.05 523.61 L348.50 525.33 L348.95 526.78 L349.40 528.00 L349.85 529.00 L350.30 529.80 L351.13 531.02 L351.97 532.04 L352.80 532.90 L353.63 533.63 L354.47 534.26 L355.30 534.80 L356.67 535.59 L358.03 536.27 L359.40 536.86 L360.77 537.39 L362.13 537.86 L363.50 538.30 L365.53 538.90 L367.57 539.45 L369.60 539.94 L371.63 540.40 L373.67 540.81 L375.70 541.20 L378.42 541.68 L381.13 542.12 L383.85 542.54 L386.57 542.92 L389.28 543.27 L392.00 543.60 L395.45 543.98 L398.90 544.33 L402.35 544.65 L405.80 544.97 L409.25 545.28 L412.70 545.60" fill="none" stroke="#531f78" stroke-width="1.6" stroke-linejoin="round" stroke-linecap="round"/>
<path d="M289.50 599.30 L289.63 599.24 L289.77 599.19 L289.90 599.14 L290.03 599.08 L290.17 599.01 L290.30 598.90 L290.47 598.43 L290.63 597.41 L290.80 595.95 L290.97 594.15 L291.13 592.13 L291.30 590.00 L291.47 587.36 L291.63 583.89 L291.80 579.82 L291.97 575.40 L292.13 570.85 L292.30 566.40 L292.53 559.64 L292.77 551.91 L293.00 543.94 L293.23 536.44 L293.47 530.12 L293.70 525.70 L293.97 522.18 L294.23 519.05 L294.50 516.35 L294.77 514.14 L295.03 512.47 L295.30 511.40 L295.98 509.65 L296.67 508.25 L297.35 507.16 L298.03 506.34 L298.72 505.73 L299.40 505.30 L300.77 504.66 L302.13 504.15 L303.50 503.75 L304.87 503.43 L306.23 503.15 L307.60 502.90 L309.63 502.54 L311.67 502.22 L313.70 501.94 L315.73 501.69 L317.77 501.48 L319.80 501.30 L322.17 501.11 L324.53 500.93 L326.90 500.76 L329.27 500.62 L331.63 500.53 L334.00 500.50 L336.22 500.51 L338.43 500.55 L340.65 500.63 L342.87 500.77 L345.08 500.99 L347.30 501.30 L347.42 501.38 L347.53 501.56 L347.65 501.82 L347.77 502.16 L347.88 502.56 L348.00 503.00 L348.13 503.87 L348.27 505.29 L348.40 507.00 L348.53 508.75 L348.67 510.30 L348.80 511.40 L349.22 513.67 L349.63 515.57 L350.05 517.16 L350.47 518.49 L350.88 519.62 L351.30 520.60 L351.97 521.99 L352.63 523.21 L353.30 524.28 L353.97 525.20 L354.63 526.00 L355.30 526.70 L356.67 527.95 L358.03 529.05 L359.40 530.01 L360.77 530.85 L362.13 531.57 L363.50 532.20 L365.53 533.02 L367.57 533.73 L369.60 534.36 L371.63 534.93 L373.67 535.43 L375.70 535.90 L378.42 536.48 L381.13 537.00 L383.85 537.48 L386.57 537.91 L389.28 538.32 L392.00 538.70 L395.45 539.14 L398.90 539.54 L402.35 539.91 L405.80 540.27 L409.25 540.63 L412.70 541.00" fill="none" stroke="#3c4960" stroke-width="1.6" stroke-linejoin="round" stroke-linecap="round"/>
<path d="M279.00 599.50 L289.00 599.40 L291.30 598.90 L343.00 585.60 L344.40 585.40 L412.70 585.40" fill="none" stroke="#ad113a" stroke-width="1.6" stroke-linejoin="round" stroke-linecap="round"/>
<line x1="279.25" y1="477.05" x2="279.25" y2="600.25" stroke="#000" stroke-width="1.1"/>
<line x1="278.75" y1="599.75" x2="412.00" y2="599.75" stroke="#000" stroke-width="1.1"/>
<line x1="276.05" y1="599.75" x2="279.25" y2="599.75" stroke="#000" stroke-width="1.15"/>
<text x="272.50" y="602.52" font-size="9.2" text-anchor="end" textLength="4.90" lengthAdjust="spacingAndGlyphs" transform="rotate(0.03 272.50 602.52)">0</text>
<line x1="276.05" y1="587.80" x2="279.25" y2="587.80" stroke="#000" stroke-width="1.15"/>
<text x="272.50" y="590.57" font-size="9.2" text-anchor="end" textLength="14.70" lengthAdjust="spacingAndGlyphs" transform="rotate(0.03 272.50 590.57)">500</text>
<line x1="276.05" y1="575.85" x2="279.25" y2="575.85" stroke="#000" stroke-width="1.15"/>
<text x="272.50" y="578.62" font-size="9.2" text-anchor="end" textLength="19.60" lengthAdjust="spacingAndGlyphs" transform="rotate(0.03 272.50 578.62)">1000</text>
<line x1="276.05" y1="563.90" x2="279.25" y2="563.90" stroke="#000" stroke-width="1.15"/>
<text x="272.50" y="566.67" font-size="9.2" text-anchor="end" textLength="19.60" lengthAdjust="spacingAndGlyphs" transform="rotate(0.03 272.50 566.67)">1500</text>
<line x1="276.05" y1="551.95" x2="279.25" y2="551.95" stroke="#000" stroke-width="1.15"/>
<text x="272.50" y="554.72" font-size="9.2" text-anchor="end" textLength="19.60" lengthAdjust="spacingAndGlyphs" transform="rotate(0.03 272.50 554.72)">2000</text>
<line x1="276.05" y1="540.00" x2="279.25" y2="540.00" stroke="#000" stroke-width="1.15"/>
<text x="272.50" y="542.77" font-size="9.2" text-anchor="end" textLength="19.60" lengthAdjust="spacingAndGlyphs" transform="rotate(0.03 272.50 542.77)">2500</text>
<line x1="276.05" y1="528.05" x2="279.25" y2="528.05" stroke="#000" stroke-width="1.15"/>
<text x="272.50" y="530.82" font-size="9.2" text-anchor="end" textLength="19.60" lengthAdjust="spacingAndGlyphs" transform="rotate(0.03 272.50 530.82)">3000</text>
<line x1="276.05" y1="516.10" x2="279.25" y2="516.10" stroke="#000" stroke-width="1.15"/>
<text x="272.50" y="518.87" font-size="9.2" text-anchor="end" textLength="19.60" lengthAdjust="spacingAndGlyphs" transform="rotate(0.03 272.50 518.87)">3500</text>
<line x1="276.05" y1="504.15" x2="279.25" y2="504.15" stroke="#000" stroke-width="1.15"/>
<text x="272.50" y="506.92" font-size="9.2" text-anchor="end" textLength="19.60" lengthAdjust="spacingAndGlyphs" transform="rotate(0.03 272.50 506.92)">4000</text>
<line x1="276.05" y1="492.20" x2="279.25" y2="492.20" stroke="#000" stroke-width="1.15"/>
<text x="272.50" y="494.97" font-size="9.2" text-anchor="end" textLength="19.60" lengthAdjust="spacingAndGlyphs" transform="rotate(0.03 272.50 494.97)">4500</text>
<line x1="276.05" y1="480.25" x2="279.25" y2="480.25" stroke="#000" stroke-width="1.15"/>
<text x="272.50" y="483.02" font-size="9.2" text-anchor="end" textLength="19.60" lengthAdjust="spacingAndGlyphs" transform="rotate(0.03 272.50 483.02)">5000</text>
<line x1="289.25" y1="599.75" x2="289.25" y2="603.35" stroke="#000" stroke-width="1.2"/>
<text x="289.25" y="614.65" font-size="9.2" text-anchor="middle" textLength="4.90" lengthAdjust="spacingAndGlyphs" transform="rotate(0.03 289.25 614.65)">0</text>
<line x1="308.45" y1="599.75" x2="308.45" y2="603.35" stroke="#000" stroke-width="1.2"/>
<text x="308.45" y="614.65" font-size="9.2" text-anchor="middle" textLength="9.80" lengthAdjust="spacingAndGlyphs" transform="rotate(0.03 308.45 614.65)">20</text>
<line x1="327.65" y1="599.75" x2="327.65" y2="603.35" stroke="#000" stroke-width="1.2"/>
<text x="327.65" y="614.65" font-size="9.2" text-anchor="middle" textLength="9.80" lengthAdjust="spacingAndGlyphs" transform="rotate(0.03 327.65 614.65)">40</text>
<line x1="346.85" y1="599.75" x2="346.85" y2="603.35" stroke="#000" stroke-width="1.2"/>
<text x="346.85" y="614.65" font-size="9.2" text-anchor="middle" textLength="9.80" lengthAdjust="spacingAndGlyphs" transform="rotate(0.03 346.85 614.65)">60</text>
<line x1="366.05" y1="599.75" x2="366.05" y2="603.35" stroke="#000" stroke-width="1.2"/>
<text x="366.05" y="614.65" font-size="9.2" text-anchor="middle" textLength="9.80" lengthAdjust="spacingAndGlyphs" transform="rotate(0.03 366.05 614.65)">80</text>
<line x1="385.25" y1="599.75" x2="385.25" y2="603.35" stroke="#000" stroke-width="1.2"/>
<text x="385.25" y="614.65" font-size="9.2" text-anchor="middle" textLength="14.70" lengthAdjust="spacingAndGlyphs" transform="rotate(0.03 385.25 614.65)">100</text>
<line x1="404.45" y1="599.75" x2="404.45" y2="603.35" stroke="#000" stroke-width="1.2"/>
<text x="404.45" y="614.65" font-size="9.2" text-anchor="middle" textLength="14.70" lengthAdjust="spacingAndGlyphs" transform="rotate(0.03 404.45 614.65)">120</text>
<text x="346.00" y="629.00" font-size="10.5" text-anchor="middle" textLength="30.00" lengthAdjust="spacingAndGlyphs" transform="rotate(0.03 346.00 629.00)">Time (s)</text>
<text x="247.00" y="538.60" font-size="10.5" text-anchor="middle" textLength="55.20" lengthAdjust="spacingAndGlyphs" transform="rotate(-90 247.00 538.60)">Response (RU)</text>
<text x="416.30" y="536.20" font-size="9" textLength="30.50" lengthAdjust="spacingAndGlyphs" transform="rotate(0.03 416.30 536.20)">3.00µM</text>
<text x="416.30" y="544.90" font-size="9" textLength="30.50" lengthAdjust="spacingAndGlyphs" transform="rotate(0.03 416.30 544.90)">1.50µM</text>
<text x="416.30" y="552.40" font-size="9" textLength="30.50" lengthAdjust="spacingAndGlyphs" transform="rotate(0.03 416.30 552.40)">1.00µM</text>
<text x="416.30" y="560.20" font-size="9" textLength="30.50" lengthAdjust="spacingAndGlyphs" transform="rotate(0.03 416.30 560.20)">0.75µM</text>
<text x="416.30" y="567.70" font-size="9" textLength="30.50" lengthAdjust="spacingAndGlyphs" transform="rotate(0.03 416.30 567.70)">0.50µM</text>
<text x="416.30" y="587.70" font-size="9" textLength="30.50" lengthAdjust="spacingAndGlyphs" transform="rotate(0.03 416.30 587.70)">0.25µM</text>
<rect x="0.5" y="0.5" width="519" height="638" fill="none" stroke="#000" stroke-width="1"/>
<rect x="1.5" y="1.5" width="517" height="636" fill="none" stroke="#000" stroke-width="1" opacity="0.2"/>
</svg>
</body></html>
